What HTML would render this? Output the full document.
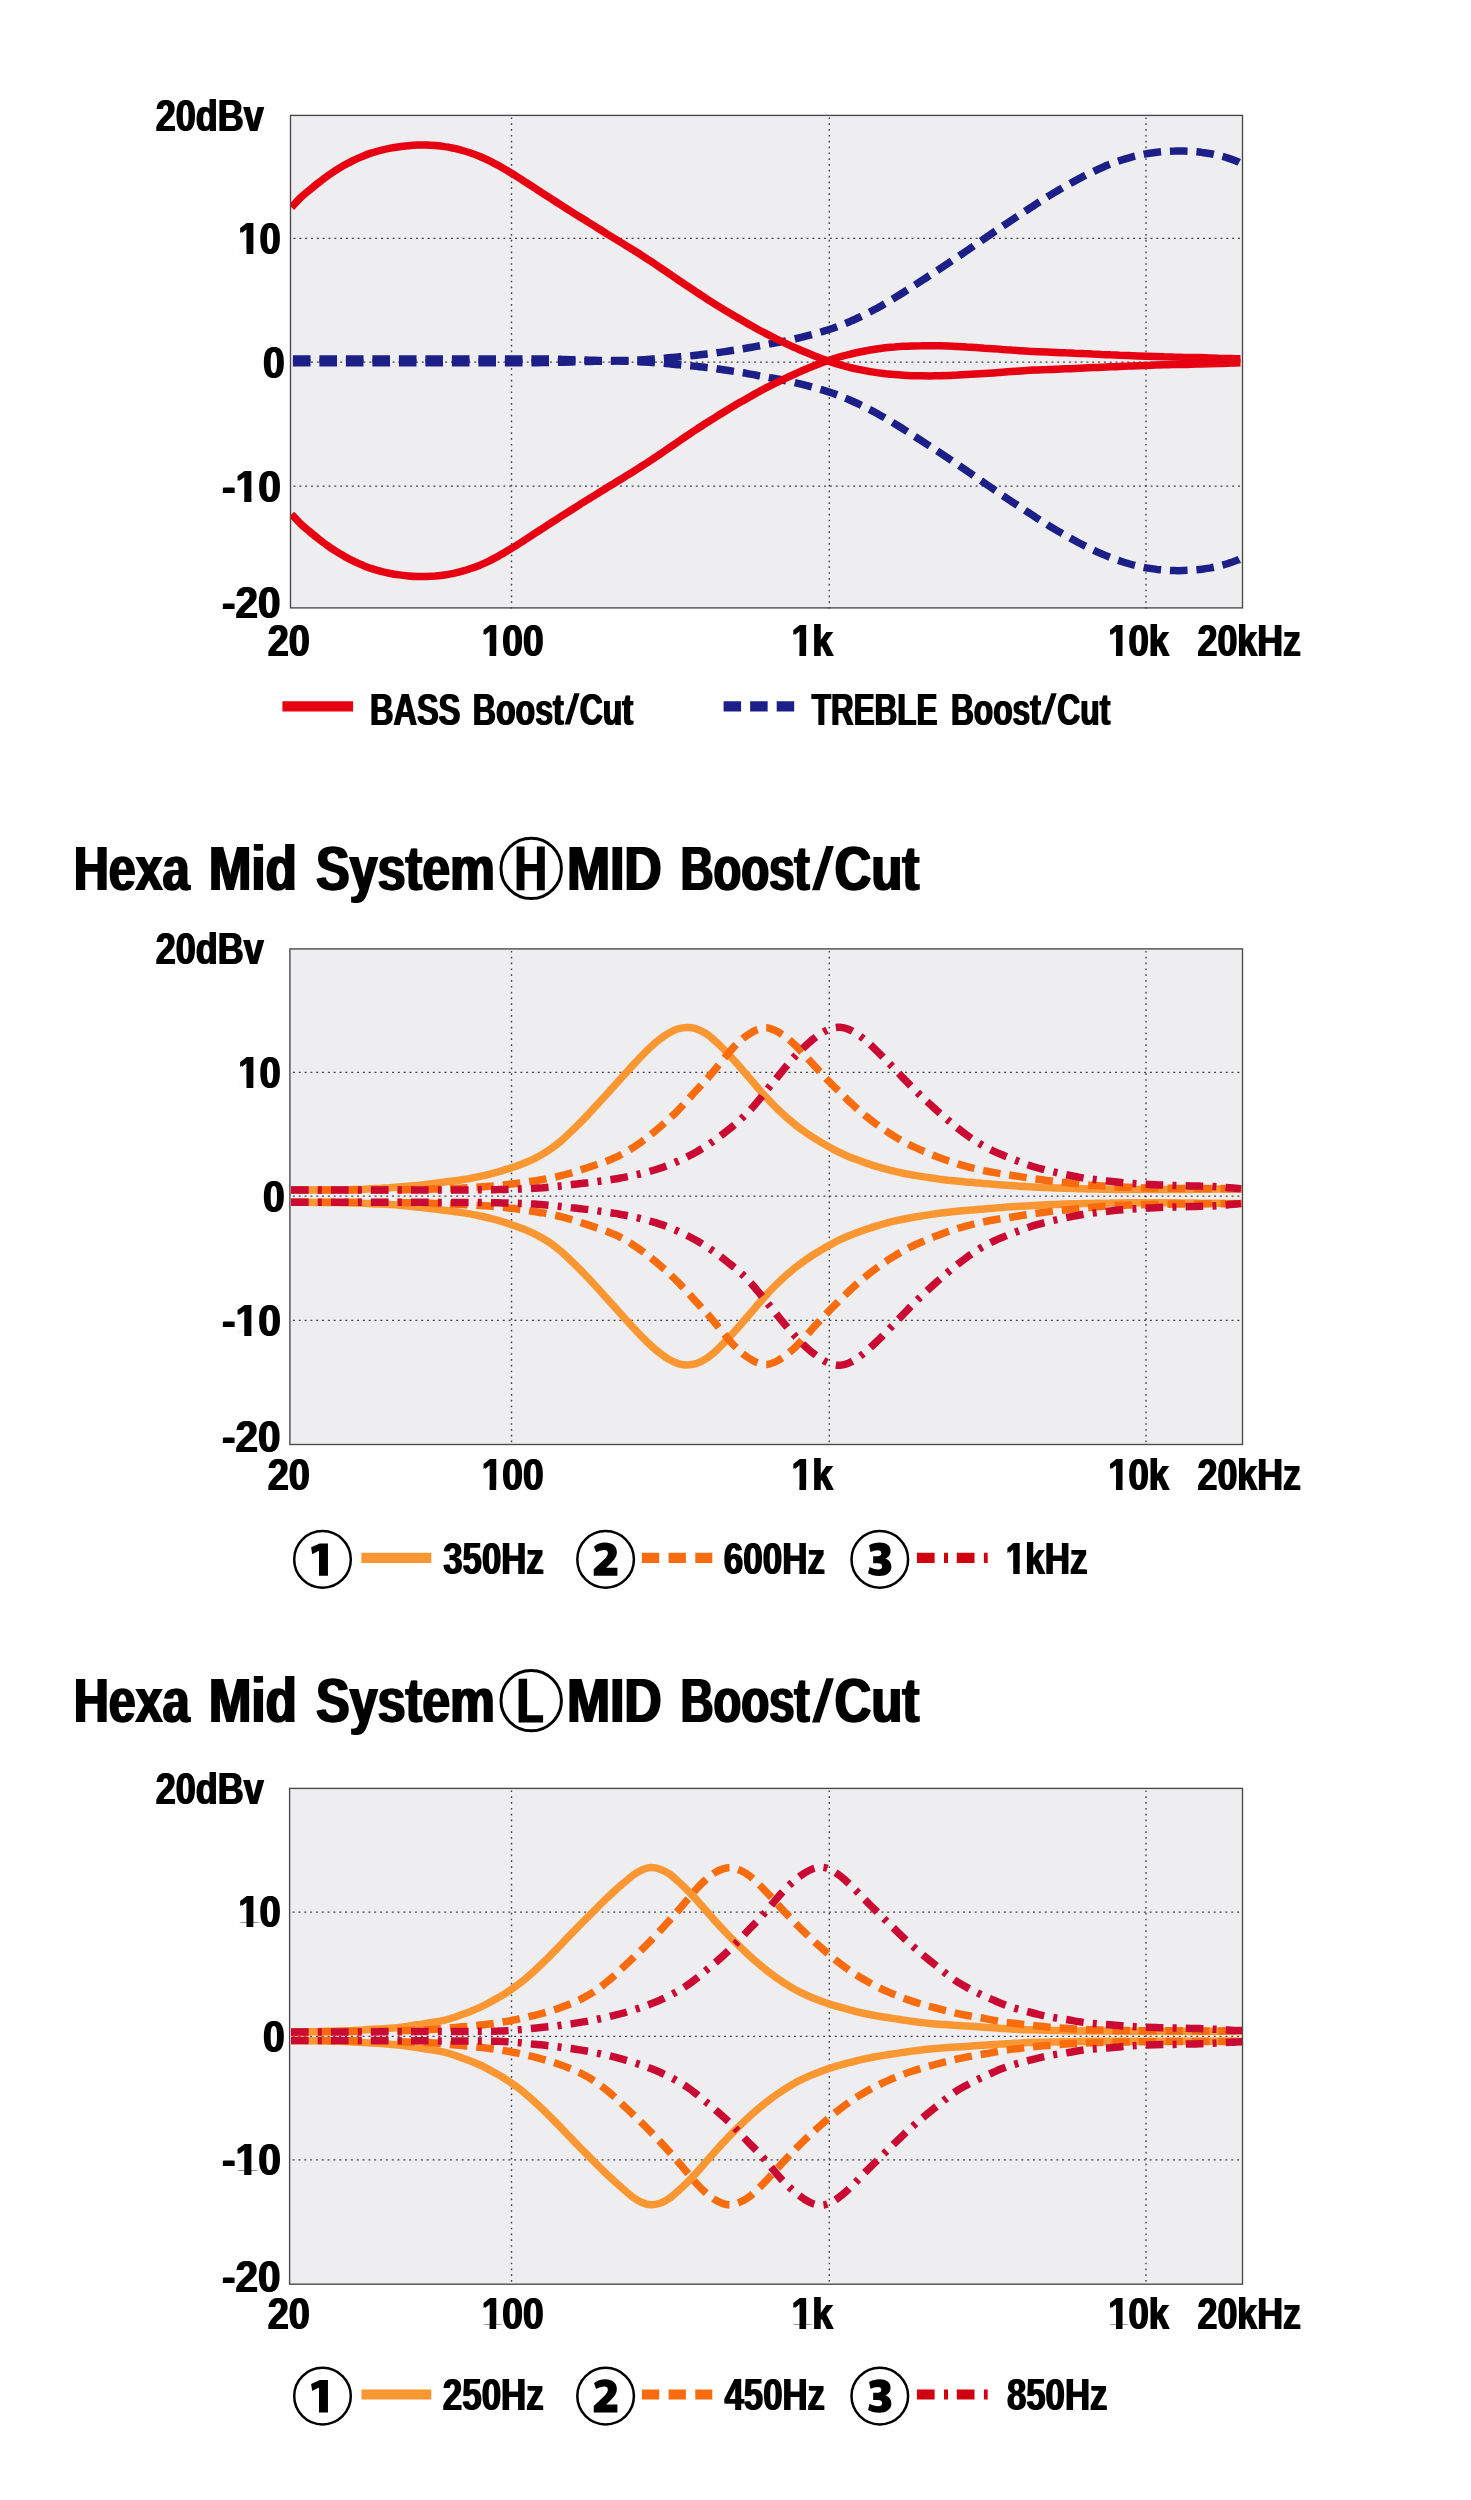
<!DOCTYPE html><html><head><meta charset="utf-8"><title>EQ curves</title><style>
html,body{margin:0;padding:0;background:#fff}svg{display:block}
text{font-family:"Liberation Sans",sans-serif;font-weight:bold}
.g{stroke:#444;stroke-width:1.25;stroke-dasharray:2 3.83;fill:none}
.gv{stroke:#444;stroke-width:1.4;stroke-dasharray:1.7 4.13;fill:none}
.c{fill:none;stroke-width:7.5;stroke-linejoin:round}
</style></head><body>
<svg width="1471" height="2500" viewBox="0 0 1471 2500">
<rect width="1471" height="2500" fill="#fff"/>
<rect x="290.5" y="115.4" width="952.0" height="492.5" fill="#eeeef0"/>
<line x1="293.5" y1="238.4" x2="1242.5" y2="238.4" class="g"/>
<line x1="293.5" y1="362.1" x2="1242.5" y2="362.1" class="g"/>
<line x1="293.5" y1="486.0" x2="1242.5" y2="486.0" class="g"/>
<line x1="511.5" y1="117.4" x2="511.5" y2="611.4" class="gv"/>
<line x1="829.3" y1="117.4" x2="829.3" y2="611.4" class="gv"/>
<line x1="1146.0" y1="117.4" x2="1146.0" y2="611.4" class="gv"/>
<clipPath id="k1"><rect x="290.7" y="115.4" width="951.8" height="492.5"/></clipPath>
<g clip-path="url(#k1)">
<path class="c" d="M292.9 358.9C294.4 358.9 298.9 358.9 301.9 358.9C304.9 358.9 307.9 358.9 310.9 358.9C313.9 358.9 316.9 358.9 319.9 358.9C322.9 358.9 325.9 358.9 328.9 358.9C331.9 358.9 334.9 358.9 337.9 358.9C340.9 358.9 343.9 358.9 346.9 358.9C349.9 358.9 352.9 358.9 355.9 358.9C358.9 358.9 361.9 358.9 364.9 358.9C367.9 358.9 370.9 358.9 373.9 358.9C376.9 358.9 379.9 358.9 382.9 358.9C385.9 358.9 388.9 358.9 391.9 358.9C394.9 358.9 397.9 358.9 400.9 358.9C403.9 358.9 406.9 358.9 409.9 358.9C412.9 358.9 415.9 358.9 418.9 358.9C421.9 358.9 424.9 358.9 427.9 358.9C430.9 358.9 433.9 358.9 436.9 358.9C439.9 358.9 442.9 358.9 445.9 358.9C448.9 358.9 451.9 358.9 454.9 358.9C457.9 358.9 460.9 358.9 463.9 358.9C466.9 358.9 469.9 358.9 472.9 358.9C475.9 358.9 478.9 358.9 481.9 358.9C484.9 358.9 487.9 358.9 490.9 358.9C493.9 358.9 496.9 358.9 499.9 358.9C502.9 358.9 505.9 358.9 508.9 358.9C511.9 358.9 514.9 358.9 517.9 358.9C520.9 358.9 523.9 358.9 526.9 358.9C529.9 358.9 532.9 358.9 535.9 358.9C538.9 358.9 541.9 358.9 544.9 359.0C547.9 359.0 550.9 359.1 553.9 359.1C556.9 359.2 559.9 359.3 562.9 359.4C565.9 359.5 568.9 359.6 571.9 359.7C574.9 359.7 577.9 359.8 580.9 359.9C583.9 360.0 586.9 360.1 589.9 360.2C592.9 360.3 595.9 360.3 598.9 360.4C601.9 360.4 604.9 360.4 607.9 360.4C610.9 360.5 613.9 360.5 616.9 360.5C619.9 360.5 622.9 360.5 625.9 360.4C628.9 360.4 631.9 360.3 634.9 360.2C637.9 360.0 640.9 359.9 643.9 359.7C646.9 359.5 649.9 359.3 652.9 359.1C655.9 358.9 658.9 358.6 661.9 358.4C664.9 358.1 667.9 357.9 670.9 357.6C673.9 357.3 676.9 357.1 679.9 356.8C682.9 356.5 685.9 356.3 688.9 356.0C691.9 355.7 694.9 355.4 697.9 355.1C700.9 354.7 703.9 354.4 706.9 354.0C709.9 353.7 712.9 353.3 715.9 352.9C718.9 352.4 721.9 352.0 724.9 351.6C727.9 351.2 730.9 350.7 733.9 350.2C736.9 349.8 739.9 349.3 742.9 348.8C745.9 348.3 748.9 347.7 751.9 347.2C754.9 346.7 757.9 346.1 760.9 345.6C763.9 345.0 766.9 344.5 769.9 343.9C772.9 343.4 775.9 342.8 778.9 342.3C781.9 341.7 784.9 341.1 787.9 340.5C790.9 339.8 793.9 339.2 796.9 338.4C799.9 337.7 802.9 337.0 805.9 336.2C808.9 335.4 811.9 334.6 814.9 333.8C817.9 333.0 820.9 332.1 823.9 331.2C826.9 330.3 829.9 329.3 832.9 328.3C835.9 327.2 838.9 326.1 841.9 324.9C844.9 323.7 847.9 322.5 850.9 321.1C853.9 319.8 856.9 318.4 859.9 317.0C862.9 315.6 865.9 314.1 868.9 312.5C871.9 311.0 874.9 309.3 877.9 307.7C880.9 306.0 883.9 304.3 886.9 302.5C889.9 300.8 892.9 299.0 895.9 297.1C898.9 295.3 901.9 293.4 904.9 291.5C907.9 289.6 910.9 287.6 913.9 285.7C916.9 283.8 919.9 281.9 922.9 279.9C925.9 278.0 928.9 276.0 931.9 274.1C934.9 272.1 937.9 270.2 940.9 268.2C943.9 266.2 946.9 264.2 949.9 262.2C952.9 260.2 955.9 258.2 958.9 256.1C961.9 254.1 964.9 252.1 967.9 250.0C970.9 248.0 973.9 245.9 976.9 243.8C979.9 241.8 982.9 239.7 985.9 237.6C988.9 235.6 991.9 233.5 994.9 231.4C997.9 229.4 1000.9 227.3 1003.9 225.3C1006.9 223.3 1009.9 221.3 1012.9 219.3C1015.9 217.3 1018.9 215.4 1021.9 213.4C1024.9 211.4 1027.9 209.4 1030.9 207.5C1033.9 205.5 1036.9 203.5 1039.9 201.6C1042.9 199.7 1045.9 197.8 1048.9 195.9C1051.9 194.1 1054.9 192.3 1057.9 190.5C1060.9 188.8 1063.9 187.0 1066.9 185.4C1069.9 183.7 1072.9 182.0 1075.9 180.4C1078.9 178.8 1081.9 177.2 1084.9 175.7C1087.9 174.2 1090.9 172.7 1093.9 171.3C1096.9 169.8 1099.9 168.5 1102.9 167.2C1105.9 165.9 1108.9 164.7 1111.9 163.5C1114.9 162.4 1117.9 161.3 1120.9 160.3C1123.9 159.3 1126.9 158.4 1129.9 157.6C1132.9 156.7 1135.9 156.0 1138.9 155.3C1141.9 154.6 1144.9 154.0 1147.9 153.5C1150.9 153.0 1153.9 152.6 1156.9 152.2C1159.9 151.9 1162.9 151.6 1165.9 151.4C1168.9 151.2 1171.9 151.0 1174.9 151.0C1177.9 150.9 1180.9 151.0 1183.9 151.1C1186.9 151.2 1189.9 151.3 1192.9 151.5C1195.9 151.8 1198.9 152.0 1201.9 152.4C1204.9 152.7 1207.9 153.2 1210.9 153.7C1213.9 154.3 1216.9 155.0 1219.9 155.8C1222.9 156.5 1225.9 157.4 1228.9 158.4C1231.9 159.3 1236.1 160.9 1237.9 161.7C1239.8 162.4 1239.7 162.6 1240.0 162.8" stroke="#1c1f87" stroke-dasharray="17.6 8.9"/>
<path class="c" d="M292.9 362.7C294.4 362.7 298.9 362.7 301.9 362.7C304.9 362.7 307.9 362.7 310.9 362.7C313.9 362.7 316.9 362.7 319.9 362.7C322.9 362.7 325.9 362.7 328.9 362.7C331.9 362.7 334.9 362.7 337.9 362.7C340.9 362.7 343.9 362.7 346.9 362.7C349.9 362.7 352.9 362.7 355.9 362.7C358.9 362.7 361.9 362.7 364.9 362.7C367.9 362.7 370.9 362.7 373.9 362.7C376.9 362.7 379.9 362.7 382.9 362.7C385.9 362.7 388.9 362.7 391.9 362.7C394.9 362.7 397.9 362.7 400.9 362.7C403.9 362.7 406.9 362.7 409.9 362.7C412.9 362.7 415.9 362.7 418.9 362.7C421.9 362.7 424.9 362.7 427.9 362.7C430.9 362.7 433.9 362.7 436.9 362.7C439.9 362.7 442.9 362.7 445.9 362.7C448.9 362.7 451.9 362.7 454.9 362.7C457.9 362.7 460.9 362.7 463.9 362.7C466.9 362.7 469.9 362.7 472.9 362.7C475.9 362.7 478.9 362.7 481.9 362.7C484.9 362.7 487.9 362.7 490.9 362.7C493.9 362.7 496.9 362.7 499.9 362.7C502.9 362.7 505.9 362.7 508.9 362.7C511.9 362.7 514.9 362.7 517.9 362.7C520.9 362.7 523.9 362.7 526.9 362.7C529.9 362.7 532.9 362.7 535.9 362.7C538.9 362.7 541.9 362.7 544.9 362.6C547.9 362.6 550.9 362.5 553.9 362.5C556.9 362.4 559.9 362.3 562.9 362.2C565.9 362.1 568.9 362.0 571.9 361.9C574.9 361.9 577.9 361.8 580.9 361.7C583.9 361.6 586.9 361.5 589.9 361.4C592.9 361.3 595.9 361.3 598.9 361.2C601.9 361.2 604.9 361.2 607.9 361.2C610.9 361.1 613.9 361.1 616.9 361.1C619.9 361.1 622.9 361.1 625.9 361.2C628.9 361.2 631.9 361.3 634.9 361.4C637.9 361.6 640.9 361.7 643.9 361.9C646.9 362.1 649.9 362.3 652.9 362.5C655.9 362.7 658.9 363.0 661.9 363.2C664.9 363.5 667.9 363.7 670.9 364.0C673.9 364.3 676.9 364.5 679.9 364.8C682.9 365.1 685.9 365.3 688.9 365.6C691.9 365.9 694.9 366.2 697.9 366.5C700.9 366.9 703.9 367.2 706.9 367.6C709.9 367.9 712.9 368.3 715.9 368.7C718.9 369.2 721.9 369.6 724.9 370.0C727.9 370.4 730.9 370.9 733.9 371.4C736.9 371.8 739.9 372.3 742.9 372.8C745.9 373.3 748.9 373.9 751.9 374.4C754.9 374.9 757.9 375.5 760.9 376.0C763.9 376.6 766.9 377.1 769.9 377.7C772.9 378.2 775.9 378.8 778.9 379.3C781.9 379.9 784.9 380.5 787.9 381.1C790.9 381.8 793.9 382.4 796.9 383.2C799.9 383.9 802.9 384.6 805.9 385.4C808.9 386.2 811.9 387.0 814.9 387.8C817.9 388.6 820.9 389.5 823.9 390.4C826.9 391.3 829.9 392.3 832.9 393.3C835.9 394.4 838.9 395.5 841.9 396.7C844.9 397.9 847.9 399.1 850.9 400.5C853.9 401.8 856.9 403.2 859.9 404.6C862.9 406.0 865.9 407.5 868.9 409.1C871.9 410.6 874.9 412.3 877.9 413.9C880.9 415.6 883.9 417.3 886.9 419.1C889.9 420.8 892.9 422.6 895.9 424.5C898.9 426.3 901.9 428.2 904.9 430.1C907.9 432.0 910.9 434.0 913.9 435.9C916.9 437.8 919.9 439.7 922.9 441.7C925.9 443.6 928.9 445.6 931.9 447.5C934.9 449.5 937.9 451.4 940.9 453.4C943.9 455.4 946.9 457.4 949.9 459.4C952.9 461.4 955.9 463.4 958.9 465.5C961.9 467.5 964.9 469.5 967.9 471.6C970.9 473.6 973.9 475.7 976.9 477.8C979.9 479.8 982.9 481.9 985.9 484.0C988.9 486.0 991.9 488.1 994.9 490.2C997.9 492.2 1000.9 494.3 1003.9 496.3C1006.9 498.3 1009.9 500.3 1012.9 502.3C1015.9 504.3 1018.9 506.2 1021.9 508.2C1024.9 510.2 1027.9 512.2 1030.9 514.1C1033.9 516.1 1036.9 518.1 1039.9 520.0C1042.9 521.9 1045.9 523.8 1048.9 525.7C1051.9 527.5 1054.9 529.3 1057.9 531.1C1060.9 532.8 1063.9 534.6 1066.9 536.2C1069.9 537.9 1072.9 539.6 1075.9 541.2C1078.9 542.8 1081.9 544.4 1084.9 545.9C1087.9 547.4 1090.9 548.9 1093.9 550.3C1096.9 551.8 1099.9 553.1 1102.9 554.4C1105.9 555.7 1108.9 556.9 1111.9 558.1C1114.9 559.2 1117.9 560.3 1120.9 561.3C1123.9 562.3 1126.9 563.2 1129.9 564.0C1132.9 564.9 1135.9 565.6 1138.9 566.3C1141.9 567.0 1144.9 567.6 1147.9 568.1C1150.9 568.6 1153.9 569.0 1156.9 569.4C1159.9 569.7 1162.9 570.0 1165.9 570.2C1168.9 570.4 1171.9 570.6 1174.9 570.6C1177.9 570.7 1180.9 570.6 1183.9 570.5C1186.9 570.4 1189.9 570.3 1192.9 570.1C1195.9 569.8 1198.9 569.6 1201.9 569.2C1204.9 568.9 1207.9 568.4 1210.9 567.9C1213.9 567.3 1216.9 566.6 1219.9 565.8C1222.9 565.1 1225.9 564.2 1228.9 563.2C1231.9 562.3 1236.1 560.7 1237.9 559.9C1239.8 559.2 1239.7 559.0 1240.0 558.8" stroke="#1c1f87" stroke-dasharray="17.6 8.9"/>
<path class="c" d="M291.5 207.4C293.0 205.8 297.5 200.7 300.5 197.8C303.5 194.9 306.5 192.6 309.5 190.1C312.5 187.6 315.5 185.1 318.5 182.7C321.5 180.4 324.5 178.1 327.5 176.0C330.5 173.8 333.5 171.8 336.5 169.9C339.5 168.0 342.5 166.3 345.5 164.6C348.5 162.9 351.5 161.4 354.5 159.9C357.5 158.5 360.5 157.2 363.5 156.0C366.5 154.7 369.5 153.6 372.5 152.7C375.5 151.7 378.5 150.8 381.5 150.1C384.5 149.3 387.5 148.7 390.5 148.1C393.5 147.5 396.5 147.1 399.5 146.7C402.5 146.3 405.5 146.0 408.5 145.7C411.5 145.4 414.5 145.2 417.5 145.1C420.5 145.0 423.5 145.0 426.5 145.0C429.5 145.1 432.5 145.3 435.5 145.5C438.5 145.8 441.5 146.1 444.5 146.6C447.5 147.0 450.5 147.6 453.5 148.2C456.5 148.9 459.5 149.6 462.5 150.5C465.5 151.3 468.5 152.2 471.5 153.3C474.5 154.3 477.5 155.5 480.5 156.7C483.5 158.0 486.5 159.3 489.5 160.8C492.5 162.3 495.5 163.9 498.5 165.5C501.5 167.2 504.5 169.0 507.5 170.8C510.5 172.6 513.5 174.4 516.5 176.3C519.5 178.2 522.5 180.1 525.5 182.1C528.5 184.0 531.5 186.0 534.5 187.9C537.5 189.9 540.5 191.8 543.5 193.8C546.5 195.7 549.5 197.7 552.5 199.6C555.5 201.5 558.5 203.5 561.5 205.4C564.5 207.3 567.5 209.2 570.5 211.1C573.5 213.0 576.5 214.9 579.5 216.8C582.5 218.6 585.5 220.5 588.5 222.4C591.5 224.2 594.5 226.1 597.5 228.0C600.5 229.8 603.5 231.7 606.5 233.6C609.5 235.4 612.5 237.3 615.5 239.1C618.5 240.9 621.5 242.8 624.5 244.6C627.5 246.4 630.5 248.3 633.5 250.1C636.5 252.0 639.5 253.9 642.5 255.9C645.5 257.8 648.5 259.8 651.5 261.7C654.5 263.7 657.5 265.8 660.5 267.8C663.5 269.8 666.5 271.9 669.5 273.9C672.5 276.0 675.5 278.0 678.5 280.1C681.5 282.1 684.5 284.2 687.5 286.2C690.5 288.2 693.5 290.3 696.5 292.2C699.5 294.2 702.5 296.2 705.5 298.1C708.5 300.0 711.5 301.9 714.5 303.8C717.5 305.7 720.5 307.5 723.5 309.4C726.5 311.2 729.5 313.0 732.5 314.8C735.5 316.6 738.5 318.3 741.5 320.0C744.5 321.8 747.5 323.5 750.5 325.2C753.5 326.9 756.5 328.5 759.5 330.2C762.5 331.8 765.5 333.4 768.5 334.9C771.5 336.5 774.5 338.0 777.5 339.5C780.5 341.0 783.5 342.4 786.5 343.8C789.5 345.2 792.5 346.6 795.5 347.9C798.5 349.2 801.5 350.6 804.5 351.8C807.5 353.1 810.5 354.3 813.5 355.5C816.5 356.7 819.5 357.9 822.5 359.0C825.5 360.1 828.5 361.1 831.5 362.1C834.5 363.1 837.5 364.1 840.5 364.9C843.5 365.8 846.5 366.6 849.5 367.3C852.5 368.1 855.5 368.8 858.5 369.4C861.5 370.0 864.5 370.6 867.5 371.1C870.5 371.7 873.5 372.1 876.5 372.6C879.5 373.0 882.5 373.4 885.5 373.8C888.5 374.1 891.5 374.4 894.5 374.6C897.5 374.9 900.5 375.1 903.5 375.3C906.5 375.5 909.5 375.6 912.5 375.7C915.5 375.8 918.5 375.8 921.5 375.8C924.5 375.9 927.5 375.9 930.5 375.9C933.5 375.9 936.5 375.8 939.5 375.8C942.5 375.7 945.5 375.6 948.5 375.5C951.5 375.4 954.5 375.2 957.5 375.1C960.5 374.9 963.5 374.7 966.5 374.5C969.5 374.4 972.5 374.2 975.5 374.0C978.5 373.8 981.5 373.6 984.5 373.4C987.5 373.3 990.5 373.1 993.5 372.9C996.5 372.7 999.5 372.5 1002.5 372.2C1005.5 372.0 1008.5 371.8 1011.5 371.5C1014.5 371.3 1017.5 371.1 1020.5 370.9C1023.5 370.7 1026.5 370.5 1029.5 370.3C1032.5 370.2 1035.5 370.0 1038.5 369.9C1041.5 369.8 1044.5 369.7 1047.5 369.6C1050.5 369.4 1053.5 369.3 1056.5 369.2C1059.5 369.1 1062.5 369.0 1065.5 368.8C1068.5 368.7 1071.5 368.6 1074.5 368.4C1077.5 368.3 1080.5 368.2 1083.5 368.0C1086.5 367.9 1089.5 367.8 1092.5 367.6C1095.5 367.5 1098.5 367.4 1101.5 367.2C1104.5 367.1 1107.5 367.0 1110.5 366.8C1113.5 366.7 1116.5 366.6 1119.5 366.4C1122.5 366.3 1125.5 366.2 1128.5 366.1C1131.5 365.9 1134.5 365.8 1137.5 365.7C1140.5 365.6 1143.5 365.5 1146.5 365.4C1149.5 365.3 1152.5 365.2 1155.5 365.1C1158.5 365.0 1161.5 364.9 1164.5 364.8C1167.5 364.8 1170.5 364.7 1173.5 364.6C1176.5 364.6 1179.5 364.5 1182.5 364.4C1185.5 364.4 1188.5 364.3 1191.5 364.2C1194.5 364.1 1197.5 364.1 1200.5 364.0C1203.5 363.9 1206.5 363.8 1209.5 363.7C1212.5 363.6 1215.5 363.5 1218.5 363.4C1221.5 363.4 1224.5 363.3 1227.5 363.2C1230.5 363.1 1234.3 363.0 1236.5 362.9C1238.7 362.9 1239.8 362.8 1240.5 362.8" stroke="#e60012"/>
<path class="c" d="M291.5 514.2C293.0 515.8 297.5 520.9 300.5 523.8C303.5 526.7 306.5 529.0 309.5 531.5C312.5 534.0 315.5 536.5 318.5 538.9C321.5 541.2 324.5 543.5 327.5 545.6C330.5 547.8 333.5 549.8 336.5 551.7C339.5 553.6 342.5 555.3 345.5 557.0C348.5 558.7 351.5 560.2 354.5 561.7C357.5 563.1 360.5 564.4 363.5 565.6C366.5 566.9 369.5 568.0 372.5 568.9C375.5 569.9 378.5 570.8 381.5 571.5C384.5 572.3 387.5 572.9 390.5 573.5C393.5 574.1 396.5 574.5 399.5 574.9C402.5 575.3 405.5 575.6 408.5 575.9C411.5 576.2 414.5 576.4 417.5 576.5C420.5 576.6 423.5 576.6 426.5 576.6C429.5 576.5 432.5 576.3 435.5 576.1C438.5 575.8 441.5 575.5 444.5 575.0C447.5 574.6 450.5 574.0 453.5 573.4C456.5 572.7 459.5 572.0 462.5 571.1C465.5 570.3 468.5 569.4 471.5 568.3C474.5 567.3 477.5 566.1 480.5 564.9C483.5 563.6 486.5 562.3 489.5 560.8C492.5 559.3 495.5 557.7 498.5 556.1C501.5 554.4 504.5 552.6 507.5 550.8C510.5 549.0 513.5 547.2 516.5 545.3C519.5 543.4 522.5 541.5 525.5 539.5C528.5 537.6 531.5 535.6 534.5 533.7C537.5 531.7 540.5 529.8 543.5 527.8C546.5 525.9 549.5 523.9 552.5 522.0C555.5 520.1 558.5 518.1 561.5 516.2C564.5 514.3 567.5 512.4 570.5 510.5C573.5 508.6 576.5 506.7 579.5 504.8C582.5 503.0 585.5 501.1 588.5 499.2C591.5 497.4 594.5 495.5 597.5 493.6C600.5 491.8 603.5 489.9 606.5 488.0C609.5 486.2 612.5 484.3 615.5 482.5C618.5 480.7 621.5 478.8 624.5 477.0C627.5 475.2 630.5 473.3 633.5 471.5C636.5 469.6 639.5 467.7 642.5 465.7C645.5 463.8 648.5 461.8 651.5 459.9C654.5 457.9 657.5 455.8 660.5 453.8C663.5 451.8 666.5 449.7 669.5 447.7C672.5 445.6 675.5 443.6 678.5 441.5C681.5 439.5 684.5 437.4 687.5 435.4C690.5 433.4 693.5 431.3 696.5 429.4C699.5 427.4 702.5 425.4 705.5 423.5C708.5 421.6 711.5 419.7 714.5 417.8C717.5 415.9 720.5 414.1 723.5 412.2C726.5 410.4 729.5 408.6 732.5 406.8C735.5 405.0 738.5 403.3 741.5 401.6C744.5 399.8 747.5 398.1 750.5 396.4C753.5 394.7 756.5 393.1 759.5 391.4C762.5 389.8 765.5 388.2 768.5 386.7C771.5 385.1 774.5 383.6 777.5 382.1C780.5 380.6 783.5 379.2 786.5 377.8C789.5 376.4 792.5 375.0 795.5 373.7C798.5 372.4 801.5 371.0 804.5 369.8C807.5 368.5 810.5 367.3 813.5 366.1C816.5 364.9 819.5 363.7 822.5 362.6C825.5 361.5 828.5 360.5 831.5 359.5C834.5 358.5 837.5 357.5 840.5 356.7C843.5 355.8 846.5 355.0 849.5 354.3C852.5 353.5 855.5 352.8 858.5 352.2C861.5 351.6 864.5 351.0 867.5 350.5C870.5 349.9 873.5 349.5 876.5 349.0C879.5 348.6 882.5 348.2 885.5 347.8C888.5 347.5 891.5 347.2 894.5 347.0C897.5 346.7 900.5 346.5 903.5 346.3C906.5 346.1 909.5 346.0 912.5 345.9C915.5 345.8 918.5 345.8 921.5 345.8C924.5 345.7 927.5 345.7 930.5 345.7C933.5 345.7 936.5 345.8 939.5 345.8C942.5 345.9 945.5 346.0 948.5 346.1C951.5 346.2 954.5 346.4 957.5 346.5C960.5 346.7 963.5 346.9 966.5 347.1C969.5 347.2 972.5 347.4 975.5 347.6C978.5 347.8 981.5 348.0 984.5 348.2C987.5 348.3 990.5 348.5 993.5 348.7C996.5 348.9 999.5 349.1 1002.5 349.4C1005.5 349.6 1008.5 349.8 1011.5 350.1C1014.5 350.3 1017.5 350.5 1020.5 350.7C1023.5 350.9 1026.5 351.1 1029.5 351.3C1032.5 351.4 1035.5 351.6 1038.5 351.7C1041.5 351.8 1044.5 351.9 1047.5 352.0C1050.5 352.2 1053.5 352.3 1056.5 352.4C1059.5 352.5 1062.5 352.6 1065.5 352.8C1068.5 352.9 1071.5 353.0 1074.5 353.2C1077.5 353.3 1080.5 353.4 1083.5 353.6C1086.5 353.7 1089.5 353.8 1092.5 354.0C1095.5 354.1 1098.5 354.2 1101.5 354.4C1104.5 354.5 1107.5 354.6 1110.5 354.8C1113.5 354.9 1116.5 355.0 1119.5 355.2C1122.5 355.3 1125.5 355.4 1128.5 355.5C1131.5 355.7 1134.5 355.8 1137.5 355.9C1140.5 356.0 1143.5 356.1 1146.5 356.2C1149.5 356.3 1152.5 356.4 1155.5 356.5C1158.5 356.6 1161.5 356.7 1164.5 356.8C1167.5 356.8 1170.5 356.9 1173.5 357.0C1176.5 357.0 1179.5 357.1 1182.5 357.2C1185.5 357.2 1188.5 357.3 1191.5 357.4C1194.5 357.5 1197.5 357.5 1200.5 357.6C1203.5 357.7 1206.5 357.8 1209.5 357.9C1212.5 358.0 1215.5 358.1 1218.5 358.2C1221.5 358.2 1224.5 358.3 1227.5 358.4C1230.5 358.5 1234.3 358.6 1236.5 358.7C1238.7 358.7 1239.8 358.8 1240.5 358.8" stroke="#e60012"/>
</g>
<rect x="290.5" y="115.4" width="952.0" height="492.5" fill="none" stroke="#4a4546" stroke-width="1.35"/>
<rect x="289.9" y="948.9" width="952.6" height="495.6" fill="#eeeef0"/>
<line x1="292.9" y1="1072.4" x2="1242.5" y2="1072.4" class="g"/>
<line x1="292.9" y1="1196.2" x2="1242.5" y2="1196.2" class="g"/>
<line x1="292.9" y1="1320.4" x2="1242.5" y2="1320.4" class="g"/>
<line x1="511.5" y1="950.9" x2="511.5" y2="1445.3" class="gv"/>
<line x1="829.3" y1="950.9" x2="829.3" y2="1445.3" class="gv"/>
<line x1="1146.0" y1="950.9" x2="1146.0" y2="1445.3" class="gv"/>
<clipPath id="kc2"><rect x="290.7" y="948.9" width="952.8" height="495.6"/></clipPath>
<g clip-path="url(#kc2)">
<path class="c" d="M291.0 1190.1C292.5 1190.1 297.0 1190.1 300.0 1190.1C303.0 1190.1 306.0 1190.1 309.0 1190.1C312.0 1190.0 315.0 1190.0 318.0 1190.0C321.0 1190.0 324.0 1190.0 327.0 1189.9C330.0 1189.9 333.0 1189.9 336.0 1189.8C339.0 1189.8 342.0 1189.8 345.0 1189.7C348.0 1189.7 351.0 1189.6 354.0 1189.5C357.0 1189.4 360.0 1189.3 363.0 1189.2C366.0 1189.0 369.0 1188.9 372.0 1188.7C375.0 1188.6 378.0 1188.4 381.0 1188.3C384.0 1188.1 387.0 1187.9 390.0 1187.8C393.0 1187.6 396.0 1187.4 399.0 1187.1C402.0 1186.9 405.0 1186.6 408.0 1186.3C411.0 1186.1 414.0 1185.7 417.0 1185.4C420.0 1185.1 423.0 1184.8 426.0 1184.4C429.0 1184.1 432.0 1183.7 435.0 1183.3C438.0 1182.9 441.0 1182.5 444.0 1182.1C447.0 1181.7 450.0 1181.4 453.0 1181.0C456.0 1180.7 459.0 1180.3 462.0 1179.8C465.0 1179.4 468.0 1178.8 471.0 1178.3C474.0 1177.7 477.0 1177.1 480.0 1176.4C483.0 1175.8 486.0 1175.1 489.0 1174.4C492.0 1173.6 495.0 1172.8 498.0 1172.0C501.0 1171.1 504.0 1170.1 507.0 1169.2C510.0 1168.2 513.0 1167.2 516.0 1166.2C519.0 1165.1 522.0 1164.0 525.0 1162.8C528.0 1161.5 531.0 1160.2 534.0 1158.8C537.0 1157.3 540.0 1155.7 543.0 1153.9C546.0 1152.1 549.0 1150.3 552.0 1148.1C555.0 1145.9 558.0 1143.5 561.0 1141.0C564.0 1138.4 567.0 1135.5 570.0 1132.6C573.0 1129.8 576.0 1126.9 579.0 1123.9C582.0 1120.9 585.0 1117.8 588.0 1114.6C591.0 1111.4 594.0 1108.1 597.0 1104.8C600.0 1101.6 603.0 1098.2 606.0 1094.9C609.0 1091.6 612.0 1088.2 615.0 1084.9C618.0 1081.6 621.0 1078.3 624.0 1075.0C627.0 1071.7 630.0 1068.3 633.0 1065.1C636.0 1061.8 639.0 1058.6 642.0 1055.6C645.0 1052.5 648.0 1049.5 651.0 1046.8C654.0 1044.0 657.0 1041.4 660.0 1039.1C663.0 1036.8 666.0 1034.7 669.0 1033.0C672.0 1031.2 675.0 1029.8 678.0 1028.8C681.0 1027.9 684.0 1027.4 687.0 1027.4C690.0 1027.4 693.0 1027.8 696.0 1028.7C699.0 1029.7 702.0 1031.1 705.0 1033.0C708.0 1034.8 711.0 1037.2 714.0 1039.8C717.0 1042.4 720.0 1045.4 723.0 1048.5C726.0 1051.5 729.0 1054.8 732.0 1058.1C735.0 1061.4 738.0 1064.8 741.0 1068.2C744.0 1071.6 747.0 1075.1 750.0 1078.6C753.0 1082.1 756.0 1085.8 759.0 1089.2C762.0 1092.7 765.0 1096.0 768.0 1099.3C771.0 1102.5 774.0 1105.6 777.0 1108.5C780.0 1111.4 783.0 1114.2 786.0 1116.9C789.0 1119.5 792.0 1122.1 795.0 1124.5C798.0 1126.9 801.0 1129.2 804.0 1131.3C807.0 1133.5 810.0 1135.5 813.0 1137.4C816.0 1139.3 819.0 1141.1 822.0 1142.9C825.0 1144.7 828.0 1146.4 831.0 1148.0C834.0 1149.7 837.0 1151.3 840.0 1152.7C843.0 1154.2 846.0 1155.5 849.0 1156.7C852.0 1157.9 855.0 1159.0 858.0 1160.1C861.0 1161.2 864.0 1162.3 867.0 1163.4C870.0 1164.4 873.0 1165.4 876.0 1166.3C879.0 1167.3 882.0 1168.1 885.0 1168.9C888.0 1169.8 891.0 1170.5 894.0 1171.2C897.0 1171.9 900.0 1172.6 903.0 1173.2C906.0 1173.8 909.0 1174.4 912.0 1174.9C915.0 1175.5 918.0 1176.0 921.0 1176.4C924.0 1176.9 927.0 1177.4 930.0 1177.8C933.0 1178.3 936.0 1178.7 939.0 1179.1C942.0 1179.5 945.0 1179.8 948.0 1180.2C951.0 1180.5 954.0 1180.8 957.0 1181.1C960.0 1181.4 963.0 1181.7 966.0 1182.0C969.0 1182.2 972.0 1182.5 975.0 1182.7C978.0 1183.0 981.0 1183.2 984.0 1183.5C987.0 1183.7 990.0 1184.0 993.0 1184.2C996.0 1184.5 999.0 1184.7 1002.0 1184.9C1005.0 1185.2 1008.0 1185.4 1011.0 1185.6C1014.0 1185.8 1017.0 1186.0 1020.0 1186.2C1023.0 1186.4 1026.0 1186.6 1029.0 1186.7C1032.0 1186.9 1035.0 1187.0 1038.0 1187.2C1041.0 1187.3 1044.0 1187.5 1047.0 1187.6C1050.0 1187.7 1053.0 1187.9 1056.0 1188.0C1059.0 1188.1 1062.0 1188.2 1065.0 1188.3C1068.0 1188.4 1071.0 1188.5 1074.0 1188.6C1077.0 1188.7 1080.0 1188.7 1083.0 1188.8C1086.0 1188.9 1089.0 1189.0 1092.0 1189.0C1095.0 1189.1 1098.0 1189.1 1101.0 1189.2C1104.0 1189.2 1107.0 1189.3 1110.0 1189.3C1113.0 1189.4 1116.0 1189.4 1119.0 1189.5C1122.0 1189.5 1125.0 1189.5 1128.0 1189.6C1131.0 1189.6 1134.0 1189.6 1137.0 1189.6C1140.0 1189.6 1143.0 1189.6 1146.0 1189.6C1149.0 1189.6 1152.0 1189.6 1155.0 1189.6C1158.0 1189.6 1161.0 1189.6 1164.0 1189.6C1167.0 1189.6 1170.0 1189.6 1173.0 1189.6C1176.0 1189.6 1179.0 1189.5 1182.0 1189.5C1185.0 1189.5 1188.0 1189.4 1191.0 1189.4C1194.0 1189.3 1197.0 1189.3 1200.0 1189.2C1203.0 1189.2 1206.0 1189.2 1209.0 1189.2C1212.0 1189.1 1215.0 1189.1 1218.0 1189.1C1221.0 1189.1 1224.0 1189.0 1227.0 1189.0C1230.0 1189.0 1233.3 1189.0 1236.0 1188.9C1238.7 1188.9 1241.8 1188.9 1243.0 1188.9" stroke="#fb9732"/>
<path class="c" d="M291.0 1202.3C292.5 1202.3 297.0 1202.3 300.0 1202.3C303.0 1202.3 306.0 1202.3 309.0 1202.3C312.0 1202.4 315.0 1202.4 318.0 1202.4C321.0 1202.4 324.0 1202.4 327.0 1202.5C330.0 1202.5 333.0 1202.5 336.0 1202.6C339.0 1202.6 342.0 1202.6 345.0 1202.7C348.0 1202.7 351.0 1202.8 354.0 1202.9C357.0 1203.0 360.0 1203.1 363.0 1203.2C366.0 1203.4 369.0 1203.5 372.0 1203.7C375.0 1203.8 378.0 1204.0 381.0 1204.1C384.0 1204.3 387.0 1204.5 390.0 1204.6C393.0 1204.8 396.0 1205.0 399.0 1205.3C402.0 1205.5 405.0 1205.8 408.0 1206.1C411.0 1206.3 414.0 1206.7 417.0 1207.0C420.0 1207.3 423.0 1207.6 426.0 1208.0C429.0 1208.3 432.0 1208.7 435.0 1209.1C438.0 1209.5 441.0 1209.9 444.0 1210.3C447.0 1210.7 450.0 1211.0 453.0 1211.4C456.0 1211.7 459.0 1212.1 462.0 1212.6C465.0 1213.0 468.0 1213.6 471.0 1214.1C474.0 1214.7 477.0 1215.3 480.0 1216.0C483.0 1216.6 486.0 1217.3 489.0 1218.0C492.0 1218.8 495.0 1219.6 498.0 1220.4C501.0 1221.3 504.0 1222.3 507.0 1223.2C510.0 1224.2 513.0 1225.2 516.0 1226.2C519.0 1227.3 522.0 1228.4 525.0 1229.6C528.0 1230.9 531.0 1232.2 534.0 1233.6C537.0 1235.1 540.0 1236.7 543.0 1238.5C546.0 1240.3 549.0 1242.1 552.0 1244.3C555.0 1246.5 558.0 1248.9 561.0 1251.4C564.0 1254.0 567.0 1256.9 570.0 1259.8C573.0 1262.6 576.0 1265.5 579.0 1268.5C582.0 1271.5 585.0 1274.6 588.0 1277.8C591.0 1281.0 594.0 1284.3 597.0 1287.6C600.0 1290.8 603.0 1294.2 606.0 1297.5C609.0 1300.8 612.0 1304.2 615.0 1307.5C618.0 1310.8 621.0 1314.1 624.0 1317.4C627.0 1320.7 630.0 1324.1 633.0 1327.3C636.0 1330.6 639.0 1333.8 642.0 1336.8C645.0 1339.9 648.0 1342.9 651.0 1345.6C654.0 1348.4 657.0 1351.0 660.0 1353.3C663.0 1355.6 666.0 1357.7 669.0 1359.4C672.0 1361.2 675.0 1362.6 678.0 1363.6C681.0 1364.5 684.0 1365.0 687.0 1365.0C690.0 1365.0 693.0 1364.6 696.0 1363.7C699.0 1362.7 702.0 1361.3 705.0 1359.4C708.0 1357.6 711.0 1355.2 714.0 1352.6C717.0 1350.0 720.0 1347.0 723.0 1343.9C726.0 1340.9 729.0 1337.6 732.0 1334.3C735.0 1331.0 738.0 1327.6 741.0 1324.2C744.0 1320.8 747.0 1317.3 750.0 1313.8C753.0 1310.3 756.0 1306.6 759.0 1303.2C762.0 1299.7 765.0 1296.4 768.0 1293.1C771.0 1289.9 774.0 1286.8 777.0 1283.9C780.0 1281.0 783.0 1278.2 786.0 1275.5C789.0 1272.9 792.0 1270.3 795.0 1267.9C798.0 1265.5 801.0 1263.2 804.0 1261.1C807.0 1258.9 810.0 1256.9 813.0 1255.0C816.0 1253.1 819.0 1251.3 822.0 1249.5C825.0 1247.7 828.0 1246.0 831.0 1244.4C834.0 1242.7 837.0 1241.1 840.0 1239.7C843.0 1238.2 846.0 1236.9 849.0 1235.7C852.0 1234.5 855.0 1233.4 858.0 1232.3C861.0 1231.2 864.0 1230.1 867.0 1229.0C870.0 1228.0 873.0 1227.0 876.0 1226.1C879.0 1225.1 882.0 1224.3 885.0 1223.5C888.0 1222.6 891.0 1221.9 894.0 1221.2C897.0 1220.5 900.0 1219.8 903.0 1219.2C906.0 1218.6 909.0 1218.0 912.0 1217.5C915.0 1216.9 918.0 1216.4 921.0 1216.0C924.0 1215.5 927.0 1215.0 930.0 1214.6C933.0 1214.1 936.0 1213.7 939.0 1213.3C942.0 1212.9 945.0 1212.6 948.0 1212.2C951.0 1211.9 954.0 1211.6 957.0 1211.3C960.0 1211.0 963.0 1210.7 966.0 1210.4C969.0 1210.2 972.0 1209.9 975.0 1209.7C978.0 1209.4 981.0 1209.2 984.0 1208.9C987.0 1208.7 990.0 1208.4 993.0 1208.2C996.0 1207.9 999.0 1207.7 1002.0 1207.5C1005.0 1207.2 1008.0 1207.0 1011.0 1206.8C1014.0 1206.6 1017.0 1206.4 1020.0 1206.2C1023.0 1206.0 1026.0 1205.8 1029.0 1205.7C1032.0 1205.5 1035.0 1205.4 1038.0 1205.2C1041.0 1205.1 1044.0 1204.9 1047.0 1204.8C1050.0 1204.7 1053.0 1204.5 1056.0 1204.4C1059.0 1204.3 1062.0 1204.2 1065.0 1204.1C1068.0 1204.0 1071.0 1203.9 1074.0 1203.8C1077.0 1203.7 1080.0 1203.7 1083.0 1203.6C1086.0 1203.5 1089.0 1203.4 1092.0 1203.4C1095.0 1203.3 1098.0 1203.3 1101.0 1203.2C1104.0 1203.2 1107.0 1203.1 1110.0 1203.1C1113.0 1203.0 1116.0 1203.0 1119.0 1202.9C1122.0 1202.9 1125.0 1202.9 1128.0 1202.8C1131.0 1202.8 1134.0 1202.8 1137.0 1202.8C1140.0 1202.8 1143.0 1202.8 1146.0 1202.8C1149.0 1202.8 1152.0 1202.8 1155.0 1202.8C1158.0 1202.8 1161.0 1202.8 1164.0 1202.8C1167.0 1202.8 1170.0 1202.8 1173.0 1202.8C1176.0 1202.8 1179.0 1202.9 1182.0 1202.9C1185.0 1202.9 1188.0 1203.0 1191.0 1203.0C1194.0 1203.1 1197.0 1203.1 1200.0 1203.2C1203.0 1203.2 1206.0 1203.2 1209.0 1203.2C1212.0 1203.3 1215.0 1203.3 1218.0 1203.3C1221.0 1203.3 1224.0 1203.4 1227.0 1203.4C1230.0 1203.4 1233.3 1203.4 1236.0 1203.5C1238.7 1203.5 1241.8 1203.5 1243.0 1203.5" stroke="#fb9732"/>
<path class="c" d="M291.0 1190.1C292.5 1190.1 297.0 1190.1 300.0 1190.1C303.0 1190.1 306.0 1190.1 309.0 1190.1C312.0 1190.1 315.0 1190.1 318.0 1190.1C321.0 1190.1 324.0 1190.1 327.0 1190.1C330.0 1190.1 333.0 1190.1 336.0 1190.1C339.0 1190.1 342.0 1190.1 345.0 1190.1C348.0 1190.1 351.0 1190.1 354.0 1190.1C357.0 1190.1 360.0 1190.1 363.0 1190.1C366.0 1190.1 369.0 1190.0 372.0 1190.0C375.0 1190.0 378.0 1190.0 381.0 1190.0C384.0 1189.9 387.0 1189.9 390.0 1189.9C393.0 1189.9 396.0 1189.8 399.0 1189.8C402.0 1189.8 405.0 1189.7 408.0 1189.7C411.0 1189.6 414.0 1189.6 417.0 1189.5C420.0 1189.5 423.0 1189.4 426.0 1189.3C429.0 1189.2 432.0 1189.1 435.0 1189.0C438.0 1189.0 441.0 1188.9 444.0 1188.8C447.0 1188.7 450.0 1188.5 453.0 1188.4C456.0 1188.3 459.0 1188.1 462.0 1188.0C465.0 1187.8 468.0 1187.7 471.0 1187.5C474.0 1187.3 477.0 1187.1 480.0 1186.9C483.0 1186.7 486.0 1186.5 489.0 1186.3C492.0 1186.1 495.0 1185.8 498.0 1185.5C501.0 1185.2 504.0 1184.9 507.0 1184.6C510.0 1184.2 513.0 1183.9 516.0 1183.5C519.0 1183.1 522.0 1182.7 525.0 1182.2C528.0 1181.8 531.0 1181.3 534.0 1180.9C537.0 1180.4 540.0 1180.0 543.0 1179.5C546.0 1179.0 549.0 1178.4 552.0 1177.8C555.0 1177.2 558.0 1176.5 561.0 1175.7C564.0 1174.9 567.0 1174.1 570.0 1173.3C573.0 1172.4 576.0 1171.4 579.0 1170.5C582.0 1169.5 585.0 1168.5 588.0 1167.5C591.0 1166.5 594.0 1165.5 597.0 1164.5C600.0 1163.5 603.0 1162.5 606.0 1161.4C609.0 1160.2 612.0 1159.1 615.0 1157.7C618.0 1156.3 621.0 1154.8 624.0 1153.1C627.0 1151.4 630.0 1149.5 633.0 1147.6C636.0 1145.6 639.0 1143.6 642.0 1141.4C645.0 1139.2 648.0 1136.9 651.0 1134.5C654.0 1132.1 657.0 1129.6 660.0 1127.0C663.0 1124.4 666.0 1121.8 669.0 1119.0C672.0 1116.2 675.0 1113.3 678.0 1110.3C681.0 1107.2 684.0 1103.9 687.0 1100.7C690.0 1097.4 693.0 1094.0 696.0 1090.8C699.0 1087.5 702.0 1084.3 705.0 1081.0C708.0 1077.7 711.0 1074.3 714.0 1070.8C717.0 1067.2 720.0 1063.3 723.0 1059.6C726.0 1056.0 729.0 1052.3 732.0 1049.1C735.0 1045.8 738.0 1042.7 741.0 1040.1C744.0 1037.5 747.0 1035.3 750.0 1033.5C753.0 1031.6 756.0 1030.0 759.0 1029.1C762.0 1028.2 765.0 1027.6 768.0 1028.0C771.0 1028.4 774.0 1029.9 777.0 1031.4C780.0 1033.0 783.0 1035.0 786.0 1037.3C789.0 1039.6 792.0 1042.2 795.0 1045.0C798.0 1047.9 801.0 1051.2 804.0 1054.4C807.0 1057.6 810.0 1061.0 813.0 1064.3C816.0 1067.6 819.0 1070.9 822.0 1074.1C825.0 1077.3 828.0 1080.4 831.0 1083.5C834.0 1086.5 837.0 1089.5 840.0 1092.4C843.0 1095.4 846.0 1098.3 849.0 1101.2C852.0 1104.0 855.0 1106.9 858.0 1109.5C861.0 1112.1 864.0 1114.6 867.0 1117.0C870.0 1119.4 873.0 1121.7 876.0 1123.9C879.0 1126.1 882.0 1128.3 885.0 1130.3C888.0 1132.3 891.0 1134.3 894.0 1136.1C897.0 1138.0 900.0 1139.8 903.0 1141.4C906.0 1143.0 909.0 1144.6 912.0 1146.0C915.0 1147.5 918.0 1148.8 921.0 1150.1C924.0 1151.4 927.0 1152.7 930.0 1153.9C933.0 1155.2 936.0 1156.3 939.0 1157.5C942.0 1158.6 945.0 1159.7 948.0 1160.8C951.0 1161.8 954.0 1162.8 957.0 1163.7C960.0 1164.7 963.0 1165.5 966.0 1166.3C969.0 1167.1 972.0 1167.9 975.0 1168.6C978.0 1169.3 981.0 1169.9 984.0 1170.6C987.0 1171.2 990.0 1171.8 993.0 1172.4C996.0 1172.9 999.0 1173.4 1002.0 1173.9C1005.0 1174.3 1008.0 1174.7 1011.0 1175.2C1014.0 1175.6 1017.0 1176.1 1020.0 1176.6C1023.0 1177.0 1026.0 1177.5 1029.0 1178.0C1032.0 1178.4 1035.0 1178.9 1038.0 1179.3C1041.0 1179.7 1044.0 1180.1 1047.0 1180.5C1050.0 1180.8 1053.0 1181.2 1056.0 1181.5C1059.0 1181.8 1062.0 1182.2 1065.0 1182.5C1068.0 1182.8 1071.0 1183.1 1074.0 1183.4C1077.0 1183.8 1080.0 1184.1 1083.0 1184.4C1086.0 1184.7 1089.0 1185.0 1092.0 1185.2C1095.0 1185.5 1098.0 1185.7 1101.0 1185.9C1104.0 1186.1 1107.0 1186.3 1110.0 1186.5C1113.0 1186.7 1116.0 1186.9 1119.0 1187.0C1122.0 1187.1 1125.0 1187.2 1128.0 1187.3C1131.0 1187.4 1134.0 1187.5 1137.0 1187.6C1140.0 1187.7 1143.0 1187.8 1146.0 1187.9C1149.0 1187.9 1152.0 1188.0 1155.0 1188.0C1158.0 1188.1 1161.0 1188.1 1164.0 1188.2C1167.0 1188.2 1170.0 1188.2 1173.0 1188.3C1176.0 1188.3 1179.0 1188.3 1182.0 1188.4C1185.0 1188.4 1188.0 1188.4 1191.0 1188.4C1194.0 1188.5 1197.0 1188.5 1200.0 1188.5C1203.0 1188.5 1206.0 1188.5 1209.0 1188.6C1212.0 1188.6 1215.0 1188.6 1218.0 1188.6C1221.0 1188.6 1224.0 1188.6 1227.0 1188.7C1230.0 1188.7 1233.3 1188.7 1236.0 1188.7C1238.7 1188.7 1241.8 1188.7 1243.0 1188.7" stroke="#f96c0e" stroke-dasharray="17.6 8.9"/>
<path class="c" d="M291.0 1202.3C292.5 1202.3 297.0 1202.3 300.0 1202.3C303.0 1202.3 306.0 1202.3 309.0 1202.3C312.0 1202.3 315.0 1202.3 318.0 1202.3C321.0 1202.3 324.0 1202.3 327.0 1202.3C330.0 1202.3 333.0 1202.3 336.0 1202.3C339.0 1202.3 342.0 1202.3 345.0 1202.3C348.0 1202.3 351.0 1202.3 354.0 1202.3C357.0 1202.3 360.0 1202.3 363.0 1202.3C366.0 1202.3 369.0 1202.4 372.0 1202.4C375.0 1202.4 378.0 1202.4 381.0 1202.4C384.0 1202.5 387.0 1202.5 390.0 1202.5C393.0 1202.5 396.0 1202.6 399.0 1202.6C402.0 1202.6 405.0 1202.7 408.0 1202.7C411.0 1202.8 414.0 1202.8 417.0 1202.9C420.0 1202.9 423.0 1203.0 426.0 1203.1C429.0 1203.2 432.0 1203.3 435.0 1203.4C438.0 1203.4 441.0 1203.5 444.0 1203.6C447.0 1203.7 450.0 1203.9 453.0 1204.0C456.0 1204.1 459.0 1204.3 462.0 1204.4C465.0 1204.6 468.0 1204.7 471.0 1204.9C474.0 1205.1 477.0 1205.3 480.0 1205.5C483.0 1205.7 486.0 1205.9 489.0 1206.1C492.0 1206.3 495.0 1206.6 498.0 1206.9C501.0 1207.2 504.0 1207.5 507.0 1207.8C510.0 1208.2 513.0 1208.5 516.0 1208.9C519.0 1209.3 522.0 1209.7 525.0 1210.2C528.0 1210.6 531.0 1211.1 534.0 1211.5C537.0 1212.0 540.0 1212.4 543.0 1212.9C546.0 1213.4 549.0 1214.0 552.0 1214.6C555.0 1215.2 558.0 1215.9 561.0 1216.7C564.0 1217.5 567.0 1218.3 570.0 1219.1C573.0 1220.0 576.0 1221.0 579.0 1221.9C582.0 1222.9 585.0 1223.9 588.0 1224.9C591.0 1225.9 594.0 1226.9 597.0 1227.9C600.0 1228.9 603.0 1229.9 606.0 1231.0C609.0 1232.2 612.0 1233.3 615.0 1234.7C618.0 1236.1 621.0 1237.6 624.0 1239.3C627.0 1241.0 630.0 1242.9 633.0 1244.8C636.0 1246.8 639.0 1248.8 642.0 1251.0C645.0 1253.2 648.0 1255.5 651.0 1257.9C654.0 1260.3 657.0 1262.8 660.0 1265.4C663.0 1268.0 666.0 1270.6 669.0 1273.4C672.0 1276.2 675.0 1279.1 678.0 1282.1C681.0 1285.2 684.0 1288.5 687.0 1291.7C690.0 1295.0 693.0 1298.4 696.0 1301.6C699.0 1304.9 702.0 1308.1 705.0 1311.4C708.0 1314.7 711.0 1318.1 714.0 1321.6C717.0 1325.2 720.0 1329.1 723.0 1332.8C726.0 1336.4 729.0 1340.1 732.0 1343.3C735.0 1346.6 738.0 1349.7 741.0 1352.3C744.0 1354.9 747.0 1357.1 750.0 1358.9C753.0 1360.8 756.0 1362.4 759.0 1363.3C762.0 1364.2 765.0 1364.8 768.0 1364.4C771.0 1364.0 774.0 1362.5 777.0 1361.0C780.0 1359.4 783.0 1357.4 786.0 1355.1C789.0 1352.8 792.0 1350.2 795.0 1347.4C798.0 1344.5 801.0 1341.2 804.0 1338.0C807.0 1334.8 810.0 1331.4 813.0 1328.1C816.0 1324.8 819.0 1321.5 822.0 1318.3C825.0 1315.1 828.0 1312.0 831.0 1308.9C834.0 1305.9 837.0 1302.9 840.0 1300.0C843.0 1297.0 846.0 1294.1 849.0 1291.2C852.0 1288.4 855.0 1285.5 858.0 1282.9C861.0 1280.3 864.0 1277.8 867.0 1275.4C870.0 1273.0 873.0 1270.7 876.0 1268.5C879.0 1266.3 882.0 1264.1 885.0 1262.1C888.0 1260.1 891.0 1258.1 894.0 1256.3C897.0 1254.4 900.0 1252.6 903.0 1251.0C906.0 1249.4 909.0 1247.8 912.0 1246.4C915.0 1244.9 918.0 1243.6 921.0 1242.3C924.0 1241.0 927.0 1239.7 930.0 1238.5C933.0 1237.2 936.0 1236.1 939.0 1234.9C942.0 1233.8 945.0 1232.7 948.0 1231.6C951.0 1230.6 954.0 1229.6 957.0 1228.7C960.0 1227.7 963.0 1226.9 966.0 1226.1C969.0 1225.3 972.0 1224.5 975.0 1223.8C978.0 1223.1 981.0 1222.5 984.0 1221.8C987.0 1221.2 990.0 1220.6 993.0 1220.0C996.0 1219.5 999.0 1219.0 1002.0 1218.5C1005.0 1218.1 1008.0 1217.7 1011.0 1217.2C1014.0 1216.8 1017.0 1216.3 1020.0 1215.8C1023.0 1215.4 1026.0 1214.9 1029.0 1214.4C1032.0 1214.0 1035.0 1213.5 1038.0 1213.1C1041.0 1212.7 1044.0 1212.3 1047.0 1211.9C1050.0 1211.6 1053.0 1211.2 1056.0 1210.9C1059.0 1210.6 1062.0 1210.2 1065.0 1209.9C1068.0 1209.6 1071.0 1209.3 1074.0 1209.0C1077.0 1208.6 1080.0 1208.3 1083.0 1208.0C1086.0 1207.7 1089.0 1207.4 1092.0 1207.2C1095.0 1206.9 1098.0 1206.7 1101.0 1206.5C1104.0 1206.3 1107.0 1206.1 1110.0 1205.9C1113.0 1205.7 1116.0 1205.5 1119.0 1205.4C1122.0 1205.3 1125.0 1205.2 1128.0 1205.1C1131.0 1205.0 1134.0 1204.9 1137.0 1204.8C1140.0 1204.7 1143.0 1204.6 1146.0 1204.5C1149.0 1204.5 1152.0 1204.4 1155.0 1204.4C1158.0 1204.3 1161.0 1204.3 1164.0 1204.2C1167.0 1204.2 1170.0 1204.2 1173.0 1204.1C1176.0 1204.1 1179.0 1204.1 1182.0 1204.0C1185.0 1204.0 1188.0 1204.0 1191.0 1204.0C1194.0 1203.9 1197.0 1203.9 1200.0 1203.9C1203.0 1203.9 1206.0 1203.9 1209.0 1203.8C1212.0 1203.8 1215.0 1203.8 1218.0 1203.8C1221.0 1203.8 1224.0 1203.8 1227.0 1203.7C1230.0 1203.7 1233.3 1203.7 1236.0 1203.7C1238.7 1203.7 1241.8 1203.7 1243.0 1203.7" stroke="#f96c0e" stroke-dasharray="17.6 8.9"/>
<path class="c" d="M291.0 1190.1C292.5 1190.1 297.0 1190.1 300.0 1190.1C303.0 1190.1 306.0 1190.1 309.0 1190.1C312.0 1190.1 315.0 1190.1 318.0 1190.1C321.0 1190.1 324.0 1190.1 327.0 1190.1C330.0 1190.1 333.0 1190.1 336.0 1190.1C339.0 1190.1 342.0 1190.1 345.0 1190.1C348.0 1190.1 351.0 1190.1 354.0 1190.1C357.0 1190.1 360.0 1190.1 363.0 1190.1C366.0 1190.1 369.0 1190.1 372.0 1190.1C375.0 1190.1 378.0 1190.1 381.0 1190.1C384.0 1190.1 387.0 1190.1 390.0 1190.1C393.0 1190.1 396.0 1190.1 399.0 1190.1C402.0 1190.1 405.0 1190.1 408.0 1190.1C411.0 1190.1 414.0 1190.1 417.0 1190.1C420.0 1190.1 423.0 1190.1 426.0 1190.1C429.0 1190.1 432.0 1190.1 435.0 1190.0C438.0 1190.0 441.0 1190.0 444.0 1190.0C447.0 1190.0 450.0 1190.0 453.0 1190.0C456.0 1190.0 459.0 1190.0 462.0 1189.9C465.0 1189.9 468.0 1189.9 471.0 1189.9C474.0 1189.9 477.0 1189.8 480.0 1189.8C483.0 1189.8 486.0 1189.7 489.0 1189.7C492.0 1189.7 495.0 1189.6 498.0 1189.6C501.0 1189.5 504.0 1189.5 507.0 1189.4C510.0 1189.3 513.0 1189.2 516.0 1189.1C519.0 1189.0 522.0 1188.9 525.0 1188.7C528.0 1188.6 531.0 1188.5 534.0 1188.3C537.0 1188.1 540.0 1187.9 543.0 1187.7C546.0 1187.4 549.0 1187.1 552.0 1186.8C555.0 1186.6 558.0 1186.2 561.0 1185.9C564.0 1185.6 567.0 1185.2 570.0 1184.9C573.0 1184.5 576.0 1184.2 579.0 1183.8C582.0 1183.5 585.0 1183.1 588.0 1182.8C591.0 1182.4 594.0 1182.0 597.0 1181.6C600.0 1181.2 603.0 1180.8 606.0 1180.4C609.0 1179.9 612.0 1179.5 615.0 1179.0C618.0 1178.5 621.0 1177.9 624.0 1177.4C627.0 1176.8 630.0 1176.2 633.0 1175.5C636.0 1174.9 639.0 1174.2 642.0 1173.4C645.0 1172.7 648.0 1171.9 651.0 1171.0C654.0 1170.2 657.0 1169.3 660.0 1168.3C663.0 1167.3 666.0 1166.2 669.0 1165.0C672.0 1163.8 675.0 1162.5 678.0 1161.2C681.0 1159.8 684.0 1158.4 687.0 1156.9C690.0 1155.4 693.0 1153.9 696.0 1152.2C699.0 1150.5 702.0 1148.7 705.0 1146.8C708.0 1144.9 711.0 1142.8 714.0 1140.7C717.0 1138.5 720.0 1136.3 723.0 1134.0C726.0 1131.7 729.0 1129.4 732.0 1126.9C735.0 1124.4 738.0 1121.9 741.0 1119.1C744.0 1116.4 747.0 1113.5 750.0 1110.3C753.0 1107.1 756.0 1103.4 759.0 1099.8C762.0 1096.2 765.0 1092.3 768.0 1088.6C771.0 1084.9 774.0 1081.3 777.0 1077.6C780.0 1074.0 783.0 1070.2 786.0 1066.6C789.0 1063.1 792.0 1059.6 795.0 1056.4C798.0 1053.1 801.0 1050.0 804.0 1047.2C807.0 1044.4 810.0 1041.7 813.0 1039.3C816.0 1037.0 819.0 1034.7 822.0 1032.9C825.0 1031.1 828.0 1029.4 831.0 1028.5C834.0 1027.6 837.0 1027.1 840.0 1027.2C843.0 1027.4 846.0 1028.3 849.0 1029.5C852.0 1030.8 855.0 1032.7 858.0 1034.7C861.0 1036.7 864.0 1039.2 867.0 1041.8C870.0 1044.3 873.0 1047.2 876.0 1050.1C879.0 1053.0 882.0 1056.0 885.0 1059.1C888.0 1062.1 891.0 1065.2 894.0 1068.4C897.0 1071.5 900.0 1074.7 903.0 1077.8C906.0 1080.9 909.0 1084.0 912.0 1087.1C915.0 1090.1 918.0 1093.1 921.0 1095.9C924.0 1098.8 927.0 1101.6 930.0 1104.3C933.0 1107.1 936.0 1109.7 939.0 1112.4C942.0 1115.0 945.0 1117.6 948.0 1120.2C951.0 1122.7 954.0 1125.2 957.0 1127.6C960.0 1130.0 963.0 1132.3 966.0 1134.5C969.0 1136.7 972.0 1138.8 975.0 1140.7C978.0 1142.7 981.0 1144.5 984.0 1146.2C987.0 1147.9 990.0 1149.4 993.0 1150.9C996.0 1152.3 999.0 1153.6 1002.0 1154.8C1005.0 1156.1 1008.0 1157.3 1011.0 1158.5C1014.0 1159.7 1017.0 1160.8 1020.0 1161.9C1023.0 1163.1 1026.0 1164.2 1029.0 1165.2C1032.0 1166.2 1035.0 1167.1 1038.0 1168.0C1041.0 1168.8 1044.0 1169.6 1047.0 1170.4C1050.0 1171.2 1053.0 1171.9 1056.0 1172.5C1059.0 1173.2 1062.0 1173.9 1065.0 1174.5C1068.0 1175.1 1071.0 1175.7 1074.0 1176.3C1077.0 1176.8 1080.0 1177.4 1083.0 1177.9C1086.0 1178.4 1089.0 1178.8 1092.0 1179.2C1095.0 1179.6 1098.0 1180.0 1101.0 1180.3C1104.0 1180.7 1107.0 1181.0 1110.0 1181.3C1113.0 1181.7 1116.0 1182.0 1119.0 1182.3C1122.0 1182.6 1125.0 1182.9 1128.0 1183.2C1131.0 1183.4 1134.0 1183.6 1137.0 1183.8C1140.0 1184.0 1143.0 1184.2 1146.0 1184.3C1149.0 1184.5 1152.0 1184.6 1155.0 1184.7C1158.0 1184.9 1161.0 1185.0 1164.0 1185.1C1167.0 1185.2 1170.0 1185.3 1173.0 1185.4C1176.0 1185.5 1179.0 1185.6 1182.0 1185.6C1185.0 1185.7 1188.0 1185.8 1191.0 1185.9C1194.0 1185.9 1197.0 1186.0 1200.0 1186.1C1203.0 1186.1 1206.0 1186.2 1209.0 1186.3C1212.0 1186.4 1215.0 1186.6 1218.0 1186.8C1221.0 1187.0 1224.0 1187.2 1227.0 1187.5C1230.0 1187.7 1233.7 1188.1 1236.0 1188.3C1238.3 1188.5 1240.2 1188.8 1241.0 1188.9" stroke="#ca0a32" stroke-dasharray="17.6 9.2 4 9.2"/>
<path class="c" d="M291.0 1202.3C292.5 1202.3 297.0 1202.3 300.0 1202.3C303.0 1202.3 306.0 1202.3 309.0 1202.3C312.0 1202.3 315.0 1202.3 318.0 1202.3C321.0 1202.3 324.0 1202.3 327.0 1202.3C330.0 1202.3 333.0 1202.3 336.0 1202.3C339.0 1202.3 342.0 1202.3 345.0 1202.3C348.0 1202.3 351.0 1202.3 354.0 1202.3C357.0 1202.3 360.0 1202.3 363.0 1202.3C366.0 1202.3 369.0 1202.3 372.0 1202.3C375.0 1202.3 378.0 1202.3 381.0 1202.3C384.0 1202.3 387.0 1202.3 390.0 1202.3C393.0 1202.3 396.0 1202.3 399.0 1202.3C402.0 1202.3 405.0 1202.3 408.0 1202.3C411.0 1202.3 414.0 1202.3 417.0 1202.3C420.0 1202.3 423.0 1202.3 426.0 1202.3C429.0 1202.3 432.0 1202.3 435.0 1202.4C438.0 1202.4 441.0 1202.4 444.0 1202.4C447.0 1202.4 450.0 1202.4 453.0 1202.4C456.0 1202.4 459.0 1202.4 462.0 1202.5C465.0 1202.5 468.0 1202.5 471.0 1202.5C474.0 1202.5 477.0 1202.6 480.0 1202.6C483.0 1202.6 486.0 1202.7 489.0 1202.7C492.0 1202.7 495.0 1202.8 498.0 1202.8C501.0 1202.9 504.0 1202.9 507.0 1203.0C510.0 1203.1 513.0 1203.2 516.0 1203.3C519.0 1203.4 522.0 1203.5 525.0 1203.7C528.0 1203.8 531.0 1203.9 534.0 1204.1C537.0 1204.3 540.0 1204.5 543.0 1204.7C546.0 1205.0 549.0 1205.3 552.0 1205.6C555.0 1205.8 558.0 1206.2 561.0 1206.5C564.0 1206.8 567.0 1207.2 570.0 1207.5C573.0 1207.9 576.0 1208.2 579.0 1208.6C582.0 1208.9 585.0 1209.3 588.0 1209.6C591.0 1210.0 594.0 1210.4 597.0 1210.8C600.0 1211.2 603.0 1211.6 606.0 1212.0C609.0 1212.5 612.0 1212.9 615.0 1213.4C618.0 1213.9 621.0 1214.5 624.0 1215.0C627.0 1215.6 630.0 1216.2 633.0 1216.9C636.0 1217.5 639.0 1218.2 642.0 1219.0C645.0 1219.7 648.0 1220.5 651.0 1221.4C654.0 1222.2 657.0 1223.1 660.0 1224.1C663.0 1225.1 666.0 1226.2 669.0 1227.4C672.0 1228.6 675.0 1229.9 678.0 1231.2C681.0 1232.6 684.0 1234.0 687.0 1235.5C690.0 1237.0 693.0 1238.5 696.0 1240.2C699.0 1241.9 702.0 1243.7 705.0 1245.6C708.0 1247.5 711.0 1249.6 714.0 1251.7C717.0 1253.9 720.0 1256.1 723.0 1258.4C726.0 1260.7 729.0 1263.0 732.0 1265.5C735.0 1268.0 738.0 1270.5 741.0 1273.3C744.0 1276.0 747.0 1278.9 750.0 1282.1C753.0 1285.3 756.0 1289.0 759.0 1292.6C762.0 1296.2 765.0 1300.1 768.0 1303.8C771.0 1307.5 774.0 1311.1 777.0 1314.8C780.0 1318.4 783.0 1322.2 786.0 1325.8C789.0 1329.3 792.0 1332.8 795.0 1336.0C798.0 1339.3 801.0 1342.4 804.0 1345.2C807.0 1348.0 810.0 1350.7 813.0 1353.1C816.0 1355.4 819.0 1357.7 822.0 1359.5C825.0 1361.3 828.0 1363.0 831.0 1363.9C834.0 1364.8 837.0 1365.3 840.0 1365.2C843.0 1365.0 846.0 1364.1 849.0 1362.9C852.0 1361.6 855.0 1359.7 858.0 1357.7C861.0 1355.7 864.0 1353.2 867.0 1350.6C870.0 1348.1 873.0 1345.2 876.0 1342.3C879.0 1339.4 882.0 1336.4 885.0 1333.3C888.0 1330.3 891.0 1327.2 894.0 1324.0C897.0 1320.9 900.0 1317.7 903.0 1314.6C906.0 1311.5 909.0 1308.4 912.0 1305.3C915.0 1302.3 918.0 1299.3 921.0 1296.5C924.0 1293.6 927.0 1290.8 930.0 1288.1C933.0 1285.3 936.0 1282.7 939.0 1280.0C942.0 1277.4 945.0 1274.8 948.0 1272.2C951.0 1269.7 954.0 1267.2 957.0 1264.8C960.0 1262.4 963.0 1260.1 966.0 1257.9C969.0 1255.7 972.0 1253.6 975.0 1251.7C978.0 1249.7 981.0 1247.9 984.0 1246.2C987.0 1244.5 990.0 1243.0 993.0 1241.5C996.0 1240.1 999.0 1238.8 1002.0 1237.6C1005.0 1236.3 1008.0 1235.1 1011.0 1233.9C1014.0 1232.7 1017.0 1231.6 1020.0 1230.5C1023.0 1229.3 1026.0 1228.2 1029.0 1227.2C1032.0 1226.2 1035.0 1225.3 1038.0 1224.4C1041.0 1223.6 1044.0 1222.8 1047.0 1222.0C1050.0 1221.2 1053.0 1220.5 1056.0 1219.9C1059.0 1219.2 1062.0 1218.5 1065.0 1217.9C1068.0 1217.3 1071.0 1216.7 1074.0 1216.1C1077.0 1215.6 1080.0 1215.0 1083.0 1214.5C1086.0 1214.0 1089.0 1213.6 1092.0 1213.2C1095.0 1212.8 1098.0 1212.4 1101.0 1212.1C1104.0 1211.7 1107.0 1211.4 1110.0 1211.1C1113.0 1210.7 1116.0 1210.4 1119.0 1210.1C1122.0 1209.8 1125.0 1209.5 1128.0 1209.2C1131.0 1209.0 1134.0 1208.8 1137.0 1208.6C1140.0 1208.4 1143.0 1208.2 1146.0 1208.1C1149.0 1207.9 1152.0 1207.8 1155.0 1207.7C1158.0 1207.5 1161.0 1207.4 1164.0 1207.3C1167.0 1207.2 1170.0 1207.1 1173.0 1207.0C1176.0 1206.9 1179.0 1206.8 1182.0 1206.8C1185.0 1206.7 1188.0 1206.6 1191.0 1206.5C1194.0 1206.5 1197.0 1206.4 1200.0 1206.3C1203.0 1206.3 1206.0 1206.2 1209.0 1206.1C1212.0 1206.0 1215.0 1205.8 1218.0 1205.6C1221.0 1205.4 1224.0 1205.2 1227.0 1204.9C1230.0 1204.7 1233.7 1204.3 1236.0 1204.1C1238.3 1203.9 1240.2 1203.6 1241.0 1203.5" stroke="#ca0a32" stroke-dasharray="17.6 9.2 4 9.2"/>
</g>
<rect x="289.9" y="948.9" width="952.6" height="495.6" fill="none" stroke="#4a4546" stroke-width="1.35"/>
<rect x="289.6" y="1788.4" width="952.9" height="495.8" fill="#eeeef0"/>
<line x1="292.6" y1="1912.1" x2="1242.5" y2="1912.1" class="g"/>
<line x1="292.6" y1="2036.3" x2="1242.5" y2="2036.3" class="g"/>
<line x1="292.6" y1="2159.9" x2="1242.5" y2="2159.9" class="g"/>
<line x1="511.5" y1="1790.4" x2="511.5" y2="2285.0" class="gv"/>
<line x1="829.3" y1="1790.4" x2="829.3" y2="2285.0" class="gv"/>
<line x1="1146.0" y1="1790.4" x2="1146.0" y2="2285.0" class="gv"/>
<clipPath id="kc3"><rect x="290.7" y="1788.4" width="952.8" height="495.8"/></clipPath>
<g clip-path="url(#kc3)">
<path class="c" d="M291.0 2031.9C292.5 2031.9 297.0 2031.9 300.0 2031.9C303.0 2031.8 306.0 2031.8 309.0 2031.7C312.0 2031.7 315.0 2031.6 318.0 2031.6C321.0 2031.5 324.0 2031.4 327.0 2031.3C330.0 2031.2 333.0 2031.2 336.0 2031.1C339.0 2031.0 342.0 2030.9 345.0 2030.8C348.0 2030.7 351.0 2030.6 354.0 2030.4C357.0 2030.3 360.0 2030.1 363.0 2030.0C366.0 2029.8 369.0 2029.6 372.0 2029.3C375.0 2029.1 378.0 2028.9 381.0 2028.8C384.0 2028.6 387.0 2028.5 390.0 2028.2C393.0 2028.0 396.0 2027.8 399.0 2027.4C402.0 2027.1 405.0 2026.6 408.0 2026.2C411.0 2025.7 414.0 2025.3 417.0 2024.8C420.0 2024.3 423.0 2023.9 426.0 2023.4C429.0 2023.0 432.0 2022.5 435.0 2022.0C438.0 2021.5 441.0 2021.0 444.0 2020.3C447.0 2019.6 450.0 2018.7 453.0 2017.7C456.0 2016.7 459.0 2015.6 462.0 2014.5C465.0 2013.4 468.0 2012.4 471.0 2011.2C474.0 2010.0 477.0 2008.7 480.0 2007.4C483.0 2006.0 486.0 2004.4 489.0 2002.8C492.0 2001.2 495.0 1999.6 498.0 1997.8C501.0 1996.1 504.0 1994.3 507.0 1992.3C510.0 1990.4 513.0 1988.3 516.0 1986.1C519.0 1983.9 522.0 1981.6 525.0 1979.1C528.0 1976.6 531.0 1974.0 534.0 1971.2C537.0 1968.5 540.0 1965.7 543.0 1962.8C546.0 1959.9 549.0 1956.9 552.0 1953.9C555.0 1950.9 558.0 1947.8 561.0 1944.7C564.0 1941.5 567.0 1938.3 570.0 1935.2C573.0 1932.1 576.0 1929.0 579.0 1925.9C582.0 1922.9 585.0 1919.9 588.0 1916.9C591.0 1913.9 594.0 1910.8 597.0 1907.8C600.0 1904.8 603.0 1901.8 606.0 1898.9C609.0 1896.1 612.0 1893.3 615.0 1890.6C618.0 1887.9 621.0 1885.2 624.0 1882.7C627.0 1880.1 630.0 1877.3 633.0 1875.2C636.0 1873.1 639.0 1871.1 642.0 1869.9C645.0 1868.6 648.0 1867.7 651.0 1867.6C654.0 1867.5 657.0 1868.2 660.0 1869.2C663.0 1870.2 666.0 1871.7 669.0 1873.7C672.0 1875.7 675.0 1878.6 678.0 1881.3C681.0 1884.0 684.0 1886.8 687.0 1889.8C690.0 1892.8 693.0 1895.9 696.0 1899.2C699.0 1902.4 702.0 1906.0 705.0 1909.4C708.0 1912.8 711.0 1916.3 714.0 1919.7C717.0 1923.0 720.0 1926.3 723.0 1929.5C726.0 1932.7 729.0 1935.9 732.0 1938.9C735.0 1942.0 738.0 1945.0 741.0 1947.8C744.0 1950.7 747.0 1953.5 750.0 1956.3C753.0 1959.0 756.0 1961.7 759.0 1964.2C762.0 1966.8 765.0 1969.2 768.0 1971.5C771.0 1973.8 774.0 1976.0 777.0 1978.1C780.0 1980.2 783.0 1982.2 786.0 1984.1C789.0 1986.0 792.0 1987.8 795.0 1989.5C798.0 1991.1 801.0 1992.6 804.0 1994.0C807.0 1995.4 810.0 1996.7 813.0 1998.0C816.0 1999.2 819.0 2000.4 822.0 2001.5C825.0 2002.6 828.0 2003.6 831.0 2004.6C834.0 2005.5 837.0 2006.4 840.0 2007.2C843.0 2008.1 846.0 2008.9 849.0 2009.7C852.0 2010.5 855.0 2011.2 858.0 2012.0C861.0 2012.7 864.0 2013.4 867.0 2014.0C870.0 2014.6 873.0 2015.2 876.0 2015.8C879.0 2016.3 882.0 2016.8 885.0 2017.3C888.0 2017.8 891.0 2018.2 894.0 2018.6C897.0 2019.1 900.0 2019.5 903.0 2020.0C906.0 2020.4 909.0 2020.9 912.0 2021.3C915.0 2021.7 918.0 2022.1 921.0 2022.4C924.0 2022.8 927.0 2023.1 930.0 2023.4C933.0 2023.7 936.0 2024.0 939.0 2024.2C942.0 2024.4 945.0 2024.6 948.0 2024.8C951.0 2025.0 954.0 2025.2 957.0 2025.4C960.0 2025.6 963.0 2025.8 966.0 2026.0C969.0 2026.2 972.0 2026.4 975.0 2026.6C978.0 2026.8 981.0 2027.0 984.0 2027.2C987.0 2027.4 990.0 2027.6 993.0 2027.8C996.0 2028.1 999.0 2028.3 1002.0 2028.5C1005.0 2028.7 1008.0 2028.9 1011.0 2029.0C1014.0 2029.2 1017.0 2029.3 1020.0 2029.4C1023.0 2029.6 1026.0 2029.7 1029.0 2029.8C1032.0 2029.9 1035.0 2030.0 1038.0 2030.1C1041.0 2030.2 1044.0 2030.3 1047.0 2030.3C1050.0 2030.4 1053.0 2030.5 1056.0 2030.5C1059.0 2030.6 1062.0 2030.6 1065.0 2030.7C1068.0 2030.7 1071.0 2030.8 1074.0 2030.8C1077.0 2030.9 1080.0 2030.9 1083.0 2031.0C1086.0 2031.0 1089.0 2031.0 1092.0 2031.1C1095.0 2031.1 1098.0 2031.1 1101.0 2031.1C1104.0 2031.1 1107.0 2031.1 1110.0 2031.1C1113.0 2031.1 1116.0 2031.1 1119.0 2031.2C1122.0 2031.2 1125.0 2031.2 1128.0 2031.2C1131.0 2031.2 1134.0 2031.2 1137.0 2031.2C1140.0 2031.2 1143.0 2031.2 1146.0 2031.2C1149.0 2031.2 1152.0 2031.2 1155.0 2031.2C1158.0 2031.2 1161.0 2031.2 1164.0 2031.2C1167.0 2031.2 1170.0 2031.2 1173.0 2031.2C1176.0 2031.2 1179.0 2031.2 1182.0 2031.2C1185.0 2031.2 1188.0 2031.2 1191.0 2031.2C1194.0 2031.2 1197.0 2031.2 1200.0 2031.2C1203.0 2031.2 1206.0 2031.2 1209.0 2031.2C1212.0 2031.2 1215.0 2031.2 1218.0 2031.2C1221.0 2031.2 1224.0 2031.1 1227.0 2031.1C1230.0 2031.1 1233.4 2031.1 1236.0 2031.1C1238.6 2031.1 1241.7 2031.1 1242.8 2031.1" stroke="#fb9732"/>
<path class="c" d="M291.0 2040.5C292.5 2040.5 297.0 2040.5 300.0 2040.5C303.0 2040.6 306.0 2040.6 309.0 2040.7C312.0 2040.7 315.0 2040.8 318.0 2040.8C321.0 2040.9 324.0 2041.0 327.0 2041.1C330.0 2041.2 333.0 2041.2 336.0 2041.3C339.0 2041.4 342.0 2041.5 345.0 2041.6C348.0 2041.7 351.0 2041.8 354.0 2042.0C357.0 2042.1 360.0 2042.3 363.0 2042.4C366.0 2042.6 369.0 2042.8 372.0 2043.1C375.0 2043.3 378.0 2043.5 381.0 2043.6C384.0 2043.8 387.0 2043.9 390.0 2044.2C393.0 2044.4 396.0 2044.6 399.0 2045.0C402.0 2045.3 405.0 2045.8 408.0 2046.2C411.0 2046.7 414.0 2047.1 417.0 2047.6C420.0 2048.1 423.0 2048.5 426.0 2049.0C429.0 2049.4 432.0 2049.9 435.0 2050.4C438.0 2050.9 441.0 2051.4 444.0 2052.1C447.0 2052.8 450.0 2053.7 453.0 2054.7C456.0 2055.7 459.0 2056.8 462.0 2057.9C465.0 2059.0 468.0 2060.0 471.0 2061.2C474.0 2062.4 477.0 2063.7 480.0 2065.0C483.0 2066.4 486.0 2068.0 489.0 2069.6C492.0 2071.2 495.0 2072.8 498.0 2074.6C501.0 2076.3 504.0 2078.1 507.0 2080.1C510.0 2082.0 513.0 2084.1 516.0 2086.3C519.0 2088.5 522.0 2090.8 525.0 2093.3C528.0 2095.8 531.0 2098.4 534.0 2101.2C537.0 2103.9 540.0 2106.7 543.0 2109.6C546.0 2112.5 549.0 2115.5 552.0 2118.5C555.0 2121.5 558.0 2124.6 561.0 2127.7C564.0 2130.9 567.0 2134.1 570.0 2137.2C573.0 2140.3 576.0 2143.4 579.0 2146.5C582.0 2149.5 585.0 2152.5 588.0 2155.5C591.0 2158.5 594.0 2161.6 597.0 2164.6C600.0 2167.6 603.0 2170.6 606.0 2173.5C609.0 2176.3 612.0 2179.1 615.0 2181.8C618.0 2184.5 621.0 2187.2 624.0 2189.7C627.0 2192.3 630.0 2195.1 633.0 2197.2C636.0 2199.3 639.0 2201.3 642.0 2202.5C645.0 2203.8 648.0 2204.7 651.0 2204.8C654.0 2204.9 657.0 2204.2 660.0 2203.2C663.0 2202.2 666.0 2200.7 669.0 2198.7C672.0 2196.7 675.0 2193.8 678.0 2191.1C681.0 2188.4 684.0 2185.6 687.0 2182.6C690.0 2179.6 693.0 2176.5 696.0 2173.2C699.0 2170.0 702.0 2166.4 705.0 2163.0C708.0 2159.6 711.0 2156.1 714.0 2152.7C717.0 2149.4 720.0 2146.1 723.0 2142.9C726.0 2139.7 729.0 2136.5 732.0 2133.5C735.0 2130.4 738.0 2127.4 741.0 2124.6C744.0 2121.7 747.0 2118.9 750.0 2116.1C753.0 2113.4 756.0 2110.7 759.0 2108.2C762.0 2105.6 765.0 2103.2 768.0 2100.9C771.0 2098.6 774.0 2096.4 777.0 2094.3C780.0 2092.2 783.0 2090.2 786.0 2088.3C789.0 2086.4 792.0 2084.6 795.0 2082.9C798.0 2081.3 801.0 2079.8 804.0 2078.4C807.0 2077.0 810.0 2075.7 813.0 2074.4C816.0 2073.2 819.0 2072.0 822.0 2070.9C825.0 2069.8 828.0 2068.8 831.0 2067.8C834.0 2066.9 837.0 2066.0 840.0 2065.2C843.0 2064.3 846.0 2063.5 849.0 2062.7C852.0 2061.9 855.0 2061.2 858.0 2060.4C861.0 2059.7 864.0 2059.0 867.0 2058.4C870.0 2057.8 873.0 2057.2 876.0 2056.6C879.0 2056.1 882.0 2055.6 885.0 2055.1C888.0 2054.6 891.0 2054.2 894.0 2053.8C897.0 2053.3 900.0 2052.9 903.0 2052.4C906.0 2052.0 909.0 2051.5 912.0 2051.1C915.0 2050.7 918.0 2050.3 921.0 2050.0C924.0 2049.6 927.0 2049.3 930.0 2049.0C933.0 2048.7 936.0 2048.4 939.0 2048.2C942.0 2048.0 945.0 2047.8 948.0 2047.6C951.0 2047.4 954.0 2047.2 957.0 2047.0C960.0 2046.8 963.0 2046.6 966.0 2046.4C969.0 2046.2 972.0 2046.0 975.0 2045.8C978.0 2045.6 981.0 2045.4 984.0 2045.2C987.0 2045.0 990.0 2044.8 993.0 2044.6C996.0 2044.3 999.0 2044.1 1002.0 2043.9C1005.0 2043.7 1008.0 2043.5 1011.0 2043.4C1014.0 2043.2 1017.0 2043.1 1020.0 2043.0C1023.0 2042.8 1026.0 2042.7 1029.0 2042.6C1032.0 2042.5 1035.0 2042.4 1038.0 2042.3C1041.0 2042.2 1044.0 2042.1 1047.0 2042.1C1050.0 2042.0 1053.0 2041.9 1056.0 2041.9C1059.0 2041.8 1062.0 2041.8 1065.0 2041.7C1068.0 2041.7 1071.0 2041.6 1074.0 2041.6C1077.0 2041.5 1080.0 2041.5 1083.0 2041.4C1086.0 2041.4 1089.0 2041.4 1092.0 2041.3C1095.0 2041.3 1098.0 2041.3 1101.0 2041.3C1104.0 2041.3 1107.0 2041.3 1110.0 2041.3C1113.0 2041.3 1116.0 2041.3 1119.0 2041.2C1122.0 2041.2 1125.0 2041.2 1128.0 2041.2C1131.0 2041.2 1134.0 2041.2 1137.0 2041.2C1140.0 2041.2 1143.0 2041.2 1146.0 2041.2C1149.0 2041.2 1152.0 2041.2 1155.0 2041.2C1158.0 2041.2 1161.0 2041.2 1164.0 2041.2C1167.0 2041.2 1170.0 2041.2 1173.0 2041.2C1176.0 2041.2 1179.0 2041.2 1182.0 2041.2C1185.0 2041.2 1188.0 2041.2 1191.0 2041.2C1194.0 2041.2 1197.0 2041.2 1200.0 2041.2C1203.0 2041.2 1206.0 2041.2 1209.0 2041.2C1212.0 2041.2 1215.0 2041.2 1218.0 2041.2C1221.0 2041.2 1224.0 2041.3 1227.0 2041.3C1230.0 2041.3 1233.4 2041.3 1236.0 2041.3C1238.6 2041.3 1241.7 2041.3 1242.8 2041.3" stroke="#fb9732"/>
<path class="c" d="M291.0 2031.9C292.5 2031.9 297.0 2031.9 300.0 2031.9C303.0 2031.9 306.0 2031.9 309.0 2031.9C312.0 2031.9 315.0 2031.8 318.0 2031.8C321.0 2031.8 324.0 2031.8 327.0 2031.8C330.0 2031.8 333.0 2031.7 336.0 2031.7C339.0 2031.7 342.0 2031.7 345.0 2031.6C348.0 2031.6 351.0 2031.6 354.0 2031.6C357.0 2031.5 360.0 2031.5 363.0 2031.4C366.0 2031.4 369.0 2031.3 372.0 2031.3C375.0 2031.2 378.0 2031.2 381.0 2031.1C384.0 2031.0 387.0 2031.0 390.0 2030.9C393.0 2030.8 396.0 2030.8 399.0 2030.7C402.0 2030.6 405.0 2030.5 408.0 2030.4C411.0 2030.3 414.0 2030.2 417.0 2030.1C420.0 2030.0 423.0 2029.9 426.0 2029.8C429.0 2029.6 432.0 2029.5 435.0 2029.3C438.0 2029.1 441.0 2028.8 444.0 2028.5C447.0 2028.3 450.0 2028.0 453.0 2027.7C456.0 2027.4 459.0 2027.1 462.0 2026.8C465.0 2026.5 468.0 2026.3 471.0 2026.0C474.0 2025.7 477.0 2025.4 480.0 2025.1C483.0 2024.8 486.0 2024.4 489.0 2024.0C492.0 2023.6 495.0 2023.2 498.0 2022.7C501.0 2022.3 504.0 2021.8 507.0 2021.3C510.0 2020.7 513.0 2020.2 516.0 2019.6C519.0 2019.0 522.0 2018.3 525.0 2017.6C528.0 2017.0 531.0 2016.2 534.0 2015.5C537.0 2014.7 540.0 2013.9 543.0 2013.1C546.0 2012.2 549.0 2011.4 552.0 2010.4C555.0 2009.5 558.0 2008.5 561.0 2007.4C564.0 2006.4 567.0 2005.2 570.0 2004.0C573.0 2002.8 576.0 2001.5 579.0 2000.1C582.0 1998.6 585.0 1997.1 588.0 1995.3C591.0 1993.6 594.0 1991.6 597.0 1989.5C600.0 1987.4 603.0 1985.2 606.0 1982.7C609.0 1980.3 612.0 1977.7 615.0 1975.0C618.0 1972.3 621.0 1969.3 624.0 1966.5C627.0 1963.7 630.0 1960.8 633.0 1958.0C636.0 1955.1 639.0 1952.3 642.0 1949.3C645.0 1946.4 648.0 1943.4 651.0 1940.3C654.0 1937.2 657.0 1934.0 660.0 1930.8C663.0 1927.6 666.0 1924.3 669.0 1921.0C672.0 1917.6 675.0 1914.2 678.0 1910.7C681.0 1907.3 684.0 1903.6 687.0 1900.1C690.0 1896.6 693.0 1892.8 696.0 1889.5C699.0 1886.2 702.0 1883.1 705.0 1880.4C708.0 1877.7 711.0 1875.2 714.0 1873.2C717.0 1871.3 720.0 1869.7 723.0 1868.8C726.0 1867.9 729.0 1867.5 732.0 1867.8C735.0 1868.1 738.0 1869.3 741.0 1870.7C744.0 1872.1 747.0 1873.9 750.0 1876.2C753.0 1878.5 756.0 1881.5 759.0 1884.5C762.0 1887.4 765.0 1890.5 768.0 1893.7C771.0 1896.9 774.0 1900.3 777.0 1903.6C780.0 1906.9 783.0 1910.2 786.0 1913.4C789.0 1916.6 792.0 1919.7 795.0 1922.8C798.0 1925.9 801.0 1928.9 804.0 1931.8C807.0 1934.7 810.0 1937.5 813.0 1940.3C816.0 1943.1 819.0 1945.8 822.0 1948.4C825.0 1951.1 828.0 1953.7 831.0 1956.3C834.0 1958.8 837.0 1961.2 840.0 1963.5C843.0 1965.8 846.0 1967.9 849.0 1970.0C852.0 1972.1 855.0 1974.1 858.0 1976.0C861.0 1977.8 864.0 1979.6 867.0 1981.3C870.0 1983.0 873.0 1984.6 876.0 1986.1C879.0 1987.6 882.0 1989.1 885.0 1990.5C888.0 1991.8 891.0 1993.2 894.0 1994.4C897.0 1995.6 900.0 1996.8 903.0 1998.0C906.0 1999.1 909.0 2000.1 912.0 2001.1C915.0 2002.1 918.0 2003.0 921.0 2003.9C924.0 2004.8 927.0 2005.7 930.0 2006.5C933.0 2007.3 936.0 2008.1 939.0 2008.9C942.0 2009.7 945.0 2010.5 948.0 2011.2C951.0 2012.0 954.0 2012.7 957.0 2013.4C960.0 2014.0 963.0 2014.7 966.0 2015.3C969.0 2015.8 972.0 2016.3 975.0 2016.9C978.0 2017.4 981.0 2017.8 984.0 2018.4C987.0 2018.9 990.0 2019.5 993.0 2020.1C996.0 2020.6 999.0 2021.3 1002.0 2021.8C1005.0 2022.3 1008.0 2022.6 1011.0 2023.0C1014.0 2023.4 1017.0 2023.7 1020.0 2024.0C1023.0 2024.4 1026.0 2024.7 1029.0 2025.1C1032.0 2025.4 1035.0 2025.7 1038.0 2026.1C1041.0 2026.4 1044.0 2026.7 1047.0 2026.9C1050.0 2027.2 1053.0 2027.4 1056.0 2027.6C1059.0 2027.9 1062.0 2028.1 1065.0 2028.3C1068.0 2028.5 1071.0 2028.7 1074.0 2028.9C1077.0 2029.0 1080.0 2029.2 1083.0 2029.4C1086.0 2029.5 1089.0 2029.6 1092.0 2029.7C1095.0 2029.9 1098.0 2029.9 1101.0 2030.0C1104.0 2030.1 1107.0 2030.1 1110.0 2030.2C1113.0 2030.3 1116.0 2030.3 1119.0 2030.4C1122.0 2030.4 1125.0 2030.5 1128.0 2030.5C1131.0 2030.5 1134.0 2030.6 1137.0 2030.6C1140.0 2030.6 1143.0 2030.7 1146.0 2030.7C1149.0 2030.7 1152.0 2030.7 1155.0 2030.7C1158.0 2030.7 1161.0 2030.7 1164.0 2030.8C1167.0 2030.8 1170.0 2030.8 1173.0 2030.8C1176.0 2030.8 1179.0 2030.8 1182.0 2030.8C1185.0 2030.8 1188.0 2030.8 1191.0 2030.8C1194.0 2030.8 1197.0 2030.8 1200.0 2030.9C1203.0 2030.9 1206.0 2030.9 1209.0 2030.9C1212.0 2030.9 1215.0 2030.9 1218.0 2030.9C1221.0 2030.9 1224.0 2030.9 1227.0 2030.9C1230.0 2030.9 1233.5 2030.9 1236.0 2030.9C1238.5 2030.9 1241.0 2030.9 1242.0 2030.9" stroke="#f96c0e" stroke-dasharray="17.6 8.9"/>
<path class="c" d="M291.0 2040.5C292.5 2040.5 297.0 2040.5 300.0 2040.5C303.0 2040.5 306.0 2040.5 309.0 2040.5C312.0 2040.5 315.0 2040.6 318.0 2040.6C321.0 2040.6 324.0 2040.6 327.0 2040.6C330.0 2040.6 333.0 2040.7 336.0 2040.7C339.0 2040.7 342.0 2040.7 345.0 2040.8C348.0 2040.8 351.0 2040.8 354.0 2040.8C357.0 2040.9 360.0 2040.9 363.0 2041.0C366.0 2041.0 369.0 2041.1 372.0 2041.1C375.0 2041.2 378.0 2041.2 381.0 2041.3C384.0 2041.4 387.0 2041.4 390.0 2041.5C393.0 2041.6 396.0 2041.6 399.0 2041.7C402.0 2041.8 405.0 2041.9 408.0 2042.0C411.0 2042.1 414.0 2042.2 417.0 2042.3C420.0 2042.4 423.0 2042.5 426.0 2042.6C429.0 2042.8 432.0 2042.9 435.0 2043.1C438.0 2043.3 441.0 2043.6 444.0 2043.9C447.0 2044.1 450.0 2044.4 453.0 2044.7C456.0 2045.0 459.0 2045.3 462.0 2045.6C465.0 2045.9 468.0 2046.1 471.0 2046.4C474.0 2046.7 477.0 2047.0 480.0 2047.3C483.0 2047.6 486.0 2048.0 489.0 2048.4C492.0 2048.8 495.0 2049.2 498.0 2049.7C501.0 2050.1 504.0 2050.6 507.0 2051.1C510.0 2051.7 513.0 2052.2 516.0 2052.8C519.0 2053.4 522.0 2054.1 525.0 2054.8C528.0 2055.4 531.0 2056.2 534.0 2056.9C537.0 2057.7 540.0 2058.5 543.0 2059.3C546.0 2060.2 549.0 2061.0 552.0 2062.0C555.0 2062.9 558.0 2063.9 561.0 2065.0C564.0 2066.0 567.0 2067.2 570.0 2068.4C573.0 2069.6 576.0 2070.9 579.0 2072.3C582.0 2073.8 585.0 2075.3 588.0 2077.1C591.0 2078.8 594.0 2080.8 597.0 2082.9C600.0 2085.0 603.0 2087.2 606.0 2089.7C609.0 2092.1 612.0 2094.7 615.0 2097.4C618.0 2100.1 621.0 2103.1 624.0 2105.9C627.0 2108.7 630.0 2111.6 633.0 2114.4C636.0 2117.3 639.0 2120.1 642.0 2123.1C645.0 2126.0 648.0 2129.0 651.0 2132.1C654.0 2135.2 657.0 2138.4 660.0 2141.6C663.0 2144.8 666.0 2148.1 669.0 2151.4C672.0 2154.8 675.0 2158.2 678.0 2161.7C681.0 2165.1 684.0 2168.8 687.0 2172.3C690.0 2175.8 693.0 2179.6 696.0 2182.9C699.0 2186.2 702.0 2189.3 705.0 2192.0C708.0 2194.7 711.0 2197.2 714.0 2199.2C717.0 2201.1 720.0 2202.7 723.0 2203.6C726.0 2204.5 729.0 2204.9 732.0 2204.6C735.0 2204.3 738.0 2203.1 741.0 2201.7C744.0 2200.3 747.0 2198.5 750.0 2196.2C753.0 2193.9 756.0 2190.9 759.0 2187.9C762.0 2185.0 765.0 2181.9 768.0 2178.7C771.0 2175.5 774.0 2172.1 777.0 2168.8C780.0 2165.5 783.0 2162.2 786.0 2159.0C789.0 2155.8 792.0 2152.7 795.0 2149.6C798.0 2146.5 801.0 2143.5 804.0 2140.6C807.0 2137.7 810.0 2134.9 813.0 2132.1C816.0 2129.3 819.0 2126.6 822.0 2124.0C825.0 2121.3 828.0 2118.7 831.0 2116.1C834.0 2113.6 837.0 2111.2 840.0 2108.9C843.0 2106.6 846.0 2104.5 849.0 2102.4C852.0 2100.3 855.0 2098.3 858.0 2096.4C861.0 2094.6 864.0 2092.8 867.0 2091.1C870.0 2089.4 873.0 2087.8 876.0 2086.3C879.0 2084.8 882.0 2083.3 885.0 2081.9C888.0 2080.6 891.0 2079.2 894.0 2078.0C897.0 2076.8 900.0 2075.6 903.0 2074.4C906.0 2073.3 909.0 2072.3 912.0 2071.3C915.0 2070.3 918.0 2069.4 921.0 2068.5C924.0 2067.6 927.0 2066.7 930.0 2065.9C933.0 2065.1 936.0 2064.3 939.0 2063.5C942.0 2062.7 945.0 2061.9 948.0 2061.2C951.0 2060.4 954.0 2059.7 957.0 2059.0C960.0 2058.4 963.0 2057.7 966.0 2057.1C969.0 2056.6 972.0 2056.1 975.0 2055.5C978.0 2055.0 981.0 2054.6 984.0 2054.0C987.0 2053.5 990.0 2052.9 993.0 2052.3C996.0 2051.8 999.0 2051.1 1002.0 2050.6C1005.0 2050.1 1008.0 2049.8 1011.0 2049.4C1014.0 2049.0 1017.0 2048.7 1020.0 2048.4C1023.0 2048.0 1026.0 2047.7 1029.0 2047.3C1032.0 2047.0 1035.0 2046.7 1038.0 2046.3C1041.0 2046.0 1044.0 2045.7 1047.0 2045.5C1050.0 2045.2 1053.0 2045.0 1056.0 2044.8C1059.0 2044.5 1062.0 2044.3 1065.0 2044.1C1068.0 2043.9 1071.0 2043.7 1074.0 2043.5C1077.0 2043.4 1080.0 2043.2 1083.0 2043.0C1086.0 2042.9 1089.0 2042.8 1092.0 2042.7C1095.0 2042.5 1098.0 2042.5 1101.0 2042.4C1104.0 2042.3 1107.0 2042.3 1110.0 2042.2C1113.0 2042.1 1116.0 2042.1 1119.0 2042.0C1122.0 2042.0 1125.0 2041.9 1128.0 2041.9C1131.0 2041.9 1134.0 2041.8 1137.0 2041.8C1140.0 2041.8 1143.0 2041.7 1146.0 2041.7C1149.0 2041.7 1152.0 2041.7 1155.0 2041.7C1158.0 2041.7 1161.0 2041.7 1164.0 2041.6C1167.0 2041.6 1170.0 2041.6 1173.0 2041.6C1176.0 2041.6 1179.0 2041.6 1182.0 2041.6C1185.0 2041.6 1188.0 2041.6 1191.0 2041.6C1194.0 2041.6 1197.0 2041.6 1200.0 2041.5C1203.0 2041.5 1206.0 2041.5 1209.0 2041.5C1212.0 2041.5 1215.0 2041.5 1218.0 2041.5C1221.0 2041.5 1224.0 2041.5 1227.0 2041.5C1230.0 2041.5 1233.5 2041.5 1236.0 2041.5C1238.5 2041.5 1241.0 2041.5 1242.0 2041.5" stroke="#f96c0e" stroke-dasharray="17.6 8.9"/>
<path class="c" d="M291.0 2031.9C292.5 2031.9 297.0 2031.9 300.0 2031.9C303.0 2031.9 306.0 2031.9 309.0 2031.9C312.0 2031.9 315.0 2031.9 318.0 2031.9C321.0 2031.9 324.0 2031.9 327.0 2031.9C330.0 2031.9 333.0 2031.9 336.0 2031.9C339.0 2031.9 342.0 2031.9 345.0 2031.9C348.0 2031.9 351.0 2031.9 354.0 2031.9C357.0 2031.9 360.0 2031.9 363.0 2031.9C366.0 2031.9 369.0 2031.9 372.0 2031.9C375.0 2031.8 378.0 2031.8 381.0 2031.8C384.0 2031.8 387.0 2031.8 390.0 2031.8C393.0 2031.8 396.0 2031.7 399.0 2031.7C402.0 2031.7 405.0 2031.7 408.0 2031.7C411.0 2031.6 414.0 2031.6 417.0 2031.6C420.0 2031.6 423.0 2031.6 426.0 2031.6C429.0 2031.6 432.0 2031.5 435.0 2031.5C438.0 2031.5 441.0 2031.5 444.0 2031.5C447.0 2031.5 450.0 2031.5 453.0 2031.5C456.0 2031.4 459.0 2031.4 462.0 2031.4C465.0 2031.4 468.0 2031.4 471.0 2031.4C474.0 2031.3 477.0 2031.3 480.0 2031.3C483.0 2031.3 486.0 2031.2 489.0 2031.2C492.0 2031.2 495.0 2031.1 498.0 2031.1C501.0 2031.0 504.0 2030.9 507.0 2030.7C510.0 2030.5 513.0 2030.3 516.0 2030.0C519.0 2029.8 522.0 2029.5 525.0 2029.2C528.0 2028.9 531.0 2028.5 534.0 2028.2C537.0 2027.9 540.0 2027.6 543.0 2027.3C546.0 2027.0 549.0 2026.7 552.0 2026.3C555.0 2026.0 558.0 2025.6 561.0 2025.2C564.0 2024.8 567.0 2024.4 570.0 2024.0C573.0 2023.6 576.0 2023.1 579.0 2022.6C582.0 2022.2 585.0 2021.6 588.0 2021.1C591.0 2020.5 594.0 2019.9 597.0 2019.3C600.0 2018.7 603.0 2018.0 606.0 2017.3C609.0 2016.7 612.0 2015.9 615.0 2015.2C618.0 2014.4 621.0 2013.6 624.0 2012.8C627.0 2012.0 630.0 2011.1 633.0 2010.1C636.0 2009.2 639.0 2008.2 642.0 2007.2C645.0 2006.1 648.0 2005.0 651.0 2003.8C654.0 2002.7 657.0 2001.4 660.0 2000.1C663.0 1998.8 666.0 1997.3 669.0 1995.8C672.0 1994.3 675.0 1992.7 678.0 1990.9C681.0 1989.2 684.0 1987.4 687.0 1985.4C690.0 1983.4 693.0 1981.1 696.0 1978.7C699.0 1976.4 702.0 1973.8 705.0 1971.3C708.0 1968.8 711.0 1966.3 714.0 1963.8C717.0 1961.2 720.0 1958.6 723.0 1955.9C726.0 1953.2 729.0 1950.4 732.0 1947.5C735.0 1944.5 738.0 1941.1 741.0 1938.0C744.0 1934.8 747.0 1931.6 750.0 1928.5C753.0 1925.4 756.0 1922.6 759.0 1919.4C762.0 1916.1 765.0 1912.5 768.0 1908.9C771.0 1905.4 774.0 1901.6 777.0 1898.2C780.0 1894.7 783.0 1891.4 786.0 1888.4C789.0 1885.4 792.0 1882.7 795.0 1880.2C798.0 1877.7 801.0 1875.4 804.0 1873.4C807.0 1871.5 810.0 1869.7 813.0 1868.7C816.0 1867.6 819.0 1867.0 822.0 1867.2C825.0 1867.4 828.0 1868.4 831.0 1869.9C834.0 1871.3 837.0 1873.5 840.0 1875.8C843.0 1878.1 846.0 1880.9 849.0 1883.7C852.0 1886.5 855.0 1889.6 858.0 1892.6C861.0 1895.7 864.0 1898.9 867.0 1901.9C870.0 1905.0 873.0 1907.9 876.0 1910.8C879.0 1913.8 882.0 1916.7 885.0 1919.7C888.0 1922.6 891.0 1925.6 894.0 1928.5C897.0 1931.5 900.0 1934.4 903.0 1937.2C906.0 1940.1 909.0 1942.9 912.0 1945.5C915.0 1948.2 918.0 1950.8 921.0 1953.3C924.0 1955.8 927.0 1958.3 930.0 1960.7C933.0 1963.1 936.0 1965.5 939.0 1967.9C942.0 1970.3 945.0 1972.9 948.0 1975.2C951.0 1977.5 954.0 1979.7 957.0 1981.7C960.0 1983.6 963.0 1985.3 966.0 1986.9C969.0 1988.6 972.0 1990.1 975.0 1991.6C978.0 1993.1 981.0 1994.5 984.0 1995.9C987.0 1997.3 990.0 1998.6 993.0 1999.9C996.0 2001.2 999.0 2002.6 1002.0 2003.8C1005.0 2004.9 1008.0 2006.1 1011.0 2007.0C1014.0 2008.0 1017.0 2008.8 1020.0 2009.7C1023.0 2010.5 1026.0 2011.2 1029.0 2012.0C1032.0 2012.8 1035.0 2013.6 1038.0 2014.3C1041.0 2015.1 1044.0 2015.8 1047.0 2016.4C1050.0 2017.0 1053.0 2017.5 1056.0 2018.0C1059.0 2018.5 1062.0 2018.8 1065.0 2019.3C1068.0 2019.8 1071.0 2020.3 1074.0 2020.9C1077.0 2021.4 1080.0 2022.0 1083.0 2022.4C1086.0 2022.8 1089.0 2023.1 1092.0 2023.4C1095.0 2023.6 1098.0 2023.8 1101.0 2024.0C1104.0 2024.3 1107.0 2024.5 1110.0 2024.7C1113.0 2025.0 1116.0 2025.3 1119.0 2025.5C1122.0 2025.8 1125.0 2026.0 1128.0 2026.3C1131.0 2026.5 1134.0 2026.7 1137.0 2026.9C1140.0 2027.0 1143.0 2027.2 1146.0 2027.3C1149.0 2027.4 1152.0 2027.5 1155.0 2027.6C1158.0 2027.7 1161.0 2027.8 1164.0 2027.8C1167.0 2027.9 1170.0 2028.0 1173.0 2028.0C1176.0 2028.1 1179.0 2028.2 1182.0 2028.2C1185.0 2028.3 1188.0 2028.3 1191.0 2028.4C1194.0 2028.5 1197.0 2028.5 1200.0 2028.6C1203.0 2028.7 1206.0 2028.8 1209.0 2028.9C1212.0 2029.1 1215.0 2029.3 1218.0 2029.4C1221.0 2029.6 1224.0 2029.8 1227.0 2029.9C1230.0 2030.1 1233.5 2030.2 1236.0 2030.4C1238.5 2030.5 1241.0 2030.6 1242.0 2030.6" stroke="#ca0a32" stroke-dasharray="17.6 9.2 4 9.2"/>
<path class="c" d="M291.0 2040.5C292.5 2040.5 297.0 2040.5 300.0 2040.5C303.0 2040.5 306.0 2040.5 309.0 2040.5C312.0 2040.5 315.0 2040.5 318.0 2040.5C321.0 2040.5 324.0 2040.5 327.0 2040.5C330.0 2040.5 333.0 2040.5 336.0 2040.5C339.0 2040.5 342.0 2040.5 345.0 2040.5C348.0 2040.5 351.0 2040.5 354.0 2040.5C357.0 2040.5 360.0 2040.5 363.0 2040.5C366.0 2040.5 369.0 2040.5 372.0 2040.5C375.0 2040.6 378.0 2040.6 381.0 2040.6C384.0 2040.6 387.0 2040.6 390.0 2040.6C393.0 2040.6 396.0 2040.7 399.0 2040.7C402.0 2040.7 405.0 2040.7 408.0 2040.7C411.0 2040.8 414.0 2040.8 417.0 2040.8C420.0 2040.8 423.0 2040.8 426.0 2040.8C429.0 2040.8 432.0 2040.9 435.0 2040.9C438.0 2040.9 441.0 2040.9 444.0 2040.9C447.0 2040.9 450.0 2040.9 453.0 2040.9C456.0 2041.0 459.0 2041.0 462.0 2041.0C465.0 2041.0 468.0 2041.0 471.0 2041.0C474.0 2041.1 477.0 2041.1 480.0 2041.1C483.0 2041.1 486.0 2041.2 489.0 2041.2C492.0 2041.2 495.0 2041.3 498.0 2041.3C501.0 2041.4 504.0 2041.5 507.0 2041.7C510.0 2041.9 513.0 2042.1 516.0 2042.4C519.0 2042.6 522.0 2042.9 525.0 2043.2C528.0 2043.5 531.0 2043.9 534.0 2044.2C537.0 2044.5 540.0 2044.8 543.0 2045.1C546.0 2045.4 549.0 2045.7 552.0 2046.1C555.0 2046.4 558.0 2046.8 561.0 2047.2C564.0 2047.6 567.0 2048.0 570.0 2048.4C573.0 2048.8 576.0 2049.3 579.0 2049.8C582.0 2050.2 585.0 2050.8 588.0 2051.3C591.0 2051.9 594.0 2052.5 597.0 2053.1C600.0 2053.7 603.0 2054.4 606.0 2055.1C609.0 2055.7 612.0 2056.5 615.0 2057.2C618.0 2058.0 621.0 2058.8 624.0 2059.6C627.0 2060.4 630.0 2061.3 633.0 2062.3C636.0 2063.2 639.0 2064.2 642.0 2065.2C645.0 2066.3 648.0 2067.4 651.0 2068.6C654.0 2069.7 657.0 2071.0 660.0 2072.3C663.0 2073.6 666.0 2075.1 669.0 2076.6C672.0 2078.1 675.0 2079.7 678.0 2081.5C681.0 2083.2 684.0 2085.0 687.0 2087.0C690.0 2089.0 693.0 2091.3 696.0 2093.7C699.0 2096.0 702.0 2098.6 705.0 2101.1C708.0 2103.6 711.0 2106.1 714.0 2108.6C717.0 2111.2 720.0 2113.8 723.0 2116.5C726.0 2119.2 729.0 2122.0 732.0 2124.9C735.0 2127.9 738.0 2131.3 741.0 2134.4C744.0 2137.6 747.0 2140.8 750.0 2143.9C753.0 2147.0 756.0 2149.8 759.0 2153.0C762.0 2156.3 765.0 2159.9 768.0 2163.5C771.0 2167.0 774.0 2170.8 777.0 2174.2C780.0 2177.7 783.0 2181.0 786.0 2184.0C789.0 2187.0 792.0 2189.7 795.0 2192.2C798.0 2194.7 801.0 2197.0 804.0 2199.0C807.0 2200.9 810.0 2202.7 813.0 2203.7C816.0 2204.8 819.0 2205.4 822.0 2205.2C825.0 2205.0 828.0 2204.0 831.0 2202.5C834.0 2201.1 837.0 2198.9 840.0 2196.6C843.0 2194.3 846.0 2191.5 849.0 2188.7C852.0 2185.9 855.0 2182.8 858.0 2179.8C861.0 2176.7 864.0 2173.5 867.0 2170.5C870.0 2167.4 873.0 2164.5 876.0 2161.6C879.0 2158.6 882.0 2155.7 885.0 2152.7C888.0 2149.8 891.0 2146.8 894.0 2143.9C897.0 2140.9 900.0 2138.0 903.0 2135.2C906.0 2132.3 909.0 2129.5 912.0 2126.9C915.0 2124.2 918.0 2121.6 921.0 2119.1C924.0 2116.6 927.0 2114.1 930.0 2111.7C933.0 2109.3 936.0 2106.9 939.0 2104.5C942.0 2102.1 945.0 2099.5 948.0 2097.2C951.0 2094.9 954.0 2092.7 957.0 2090.7C960.0 2088.8 963.0 2087.1 966.0 2085.5C969.0 2083.8 972.0 2082.3 975.0 2080.8C978.0 2079.3 981.0 2077.9 984.0 2076.5C987.0 2075.1 990.0 2073.8 993.0 2072.5C996.0 2071.2 999.0 2069.8 1002.0 2068.6C1005.0 2067.5 1008.0 2066.3 1011.0 2065.4C1014.0 2064.4 1017.0 2063.6 1020.0 2062.7C1023.0 2061.9 1026.0 2061.2 1029.0 2060.4C1032.0 2059.6 1035.0 2058.8 1038.0 2058.1C1041.0 2057.3 1044.0 2056.6 1047.0 2056.0C1050.0 2055.4 1053.0 2054.9 1056.0 2054.4C1059.0 2053.9 1062.0 2053.6 1065.0 2053.1C1068.0 2052.6 1071.0 2052.1 1074.0 2051.5C1077.0 2051.0 1080.0 2050.4 1083.0 2050.0C1086.0 2049.6 1089.0 2049.3 1092.0 2049.0C1095.0 2048.8 1098.0 2048.6 1101.0 2048.4C1104.0 2048.1 1107.0 2047.9 1110.0 2047.7C1113.0 2047.4 1116.0 2047.1 1119.0 2046.9C1122.0 2046.6 1125.0 2046.4 1128.0 2046.1C1131.0 2045.9 1134.0 2045.7 1137.0 2045.5C1140.0 2045.4 1143.0 2045.2 1146.0 2045.1C1149.0 2045.0 1152.0 2044.9 1155.0 2044.8C1158.0 2044.7 1161.0 2044.6 1164.0 2044.6C1167.0 2044.5 1170.0 2044.4 1173.0 2044.4C1176.0 2044.3 1179.0 2044.2 1182.0 2044.2C1185.0 2044.1 1188.0 2044.1 1191.0 2044.0C1194.0 2043.9 1197.0 2043.9 1200.0 2043.8C1203.0 2043.7 1206.0 2043.6 1209.0 2043.5C1212.0 2043.3 1215.0 2043.1 1218.0 2043.0C1221.0 2042.8 1224.0 2042.6 1227.0 2042.5C1230.0 2042.3 1233.5 2042.2 1236.0 2042.0C1238.5 2041.9 1241.0 2041.8 1242.0 2041.8" stroke="#ca0a32" stroke-dasharray="17.6 9.2 4 9.2"/>
</g>
<rect x="289.6" y="1788.4" width="952.9" height="495.8" fill="none" stroke="#4a4546" stroke-width="1.35"/>
<g opacity="0.999">
<text transform="translate(155.04 130.60) scale(0.8003 1)" font-size="44.95" fill="#000">20dBv</text>
<text transform="translate(156.59 130.60) scale(0.8003 1)" font-size="44.95" fill="#000">20dBv</text>
<text transform="translate(237.61 253.70) scale(0.8608 1)" font-size="44.36" fill="#000">10</text>
<text transform="translate(239.14 253.70) scale(0.8608 1)" font-size="44.36" fill="#000">10</text>
<rect x="239.22" y="248.91" width="7.29" height="5.99" fill="#fff"/>
<rect x="253.31" y="248.91" width="6.80" height="5.99" fill="#fff"/>
<text transform="translate(262.24 377.70) scale(0.8784 1)" font-size="44.51" fill="#000">0</text>
<text transform="translate(263.77 377.70) scale(0.8784 1)" font-size="44.51" fill="#000">0</text>
<text transform="translate(221.17 501.50) scale(0.9194 1)" font-size="44.36" fill="#000">-10</text>
<text transform="translate(222.69 501.50) scale(0.9194 1)" font-size="44.36" fill="#000">-10</text>
<rect x="236.52" y="496.71" width="7.73" height="5.99" fill="#fff"/>
<rect x="251.41" y="496.71" width="7.20" height="5.99" fill="#fff"/>
<text transform="translate(221.18 618.20) scale(0.9036 1)" font-size="44.80" fill="#000">-20</text>
<text transform="translate(222.72 618.20) scale(0.9036 1)" font-size="44.80" fill="#000">-20</text>
<text transform="translate(155.04 964.10) scale(0.8003 1)" font-size="44.95" fill="#000">20dBv</text>
<text transform="translate(156.59 964.10) scale(0.8003 1)" font-size="44.95" fill="#000">20dBv</text>
<text transform="translate(237.61 1087.70) scale(0.8608 1)" font-size="44.36" fill="#000">10</text>
<text transform="translate(239.14 1087.70) scale(0.8608 1)" font-size="44.36" fill="#000">10</text>
<rect x="239.22" y="1082.91" width="7.29" height="5.99" fill="#fff"/>
<rect x="253.31" y="1082.91" width="6.80" height="5.99" fill="#fff"/>
<text transform="translate(262.24 1211.80) scale(0.8784 1)" font-size="44.51" fill="#000">0</text>
<text transform="translate(263.77 1211.80) scale(0.8784 1)" font-size="44.51" fill="#000">0</text>
<text transform="translate(221.17 1335.90) scale(0.9194 1)" font-size="44.36" fill="#000">-10</text>
<text transform="translate(222.69 1335.90) scale(0.9194 1)" font-size="44.36" fill="#000">-10</text>
<rect x="236.52" y="1331.11" width="7.73" height="5.99" fill="#fff"/>
<rect x="251.41" y="1331.11" width="7.20" height="5.99" fill="#fff"/>
<text transform="translate(221.18 1452.00) scale(0.9036 1)" font-size="44.80" fill="#000">-20</text>
<text transform="translate(222.72 1452.00) scale(0.9036 1)" font-size="44.80" fill="#000">-20</text>
<text transform="translate(155.04 1803.60) scale(0.8003 1)" font-size="44.95" fill="#000">20dBv</text>
<text transform="translate(156.59 1803.60) scale(0.8003 1)" font-size="44.95" fill="#000">20dBv</text>
<text transform="translate(237.61 1927.40) scale(0.8608 1)" font-size="44.36" fill="#000">10</text>
<text transform="translate(239.14 1927.40) scale(0.8608 1)" font-size="44.36" fill="#000">10</text>
<rect x="239.22" y="1922.61" width="7.29" height="5.99" fill="#fff"/>
<rect x="253.31" y="1922.61" width="6.80" height="5.99" fill="#fff"/>
<text transform="translate(262.24 2051.90) scale(0.8784 1)" font-size="44.51" fill="#000">0</text>
<text transform="translate(263.77 2051.90) scale(0.8784 1)" font-size="44.51" fill="#000">0</text>
<text transform="translate(221.17 2175.40) scale(0.9194 1)" font-size="44.36" fill="#000">-10</text>
<text transform="translate(222.69 2175.40) scale(0.9194 1)" font-size="44.36" fill="#000">-10</text>
<rect x="236.52" y="2170.61" width="7.73" height="5.99" fill="#fff"/>
<rect x="251.41" y="2170.61" width="7.20" height="5.99" fill="#fff"/>
<text transform="translate(221.18 2291.80) scale(0.9036 1)" font-size="44.80" fill="#000">-20</text>
<text transform="translate(222.72 2291.80) scale(0.9036 1)" font-size="44.80" fill="#000">-20</text>
<text transform="translate(266.97 655.70) scale(0.8620 1)" font-size="43.93" fill="#000">20</text>
<text transform="translate(268.48 655.70) scale(0.8620 1)" font-size="43.93" fill="#000">20</text>
<text transform="translate(480.88 655.70) scale(0.8450 1)" font-size="43.93" fill="#000">100</text>
<text transform="translate(482.39 655.70) scale(0.8450 1)" font-size="43.93" fill="#000">100</text>
<rect x="482.42" y="650.96" width="7.11" height="5.94" fill="#fff"/>
<rect x="496.16" y="650.96" width="6.63" height="5.94" fill="#fff"/>
<text transform="translate(790.66 655.70) scale(0.8540 1)" font-size="43.93" fill="#000">1k</text>
<text transform="translate(792.17 655.70) scale(0.8540 1)" font-size="43.93" fill="#000">1k</text>
<rect x="792.22" y="650.96" width="7.18" height="5.94" fill="#fff"/>
<rect x="806.08" y="650.96" width="6.69" height="5.94" fill="#fff"/>
<text transform="translate(1107.41 655.70) scale(0.8326 1)" font-size="43.93" fill="#000">10k</text>
<text transform="translate(1108.92 655.70) scale(0.8326 1)" font-size="43.93" fill="#000">10k</text>
<rect x="1108.92" y="650.96" width="7.02" height="5.94" fill="#fff"/>
<rect x="1122.49" y="650.96" width="6.54" height="5.94" fill="#fff"/>
<text transform="translate(1196.75 655.70) scale(0.8145 1)" font-size="43.93" fill="#000">20kHz</text>
<text transform="translate(1198.26 655.70) scale(0.8145 1)" font-size="43.93" fill="#000">20kHz</text>
<text transform="translate(266.97 1489.70) scale(0.8620 1)" font-size="43.93" fill="#000">20</text>
<text transform="translate(268.48 1489.70) scale(0.8620 1)" font-size="43.93" fill="#000">20</text>
<text transform="translate(480.88 1489.70) scale(0.8450 1)" font-size="43.93" fill="#000">100</text>
<text transform="translate(482.39 1489.70) scale(0.8450 1)" font-size="43.93" fill="#000">100</text>
<rect x="482.42" y="1484.96" width="7.11" height="5.94" fill="#fff"/>
<rect x="496.16" y="1484.96" width="6.63" height="5.94" fill="#fff"/>
<text transform="translate(790.66 1489.70) scale(0.8540 1)" font-size="43.93" fill="#000">1k</text>
<text transform="translate(792.17 1489.70) scale(0.8540 1)" font-size="43.93" fill="#000">1k</text>
<rect x="792.22" y="1484.96" width="7.18" height="5.94" fill="#fff"/>
<rect x="806.08" y="1484.96" width="6.69" height="5.94" fill="#fff"/>
<text transform="translate(1107.41 1489.70) scale(0.8326 1)" font-size="43.93" fill="#000">10k</text>
<text transform="translate(1108.92 1489.70) scale(0.8326 1)" font-size="43.93" fill="#000">10k</text>
<rect x="1108.92" y="1484.96" width="7.02" height="5.94" fill="#fff"/>
<rect x="1122.49" y="1484.96" width="6.54" height="5.94" fill="#fff"/>
<text transform="translate(1196.75 1489.70) scale(0.8145 1)" font-size="43.93" fill="#000">20kHz</text>
<text transform="translate(1198.26 1489.70) scale(0.8145 1)" font-size="43.93" fill="#000">20kHz</text>
<text transform="translate(266.97 2329.30) scale(0.8620 1)" font-size="43.93" fill="#000">20</text>
<text transform="translate(268.48 2329.30) scale(0.8620 1)" font-size="43.93" fill="#000">20</text>
<text transform="translate(480.88 2329.30) scale(0.8450 1)" font-size="43.93" fill="#000">100</text>
<text transform="translate(482.39 2329.30) scale(0.8450 1)" font-size="43.93" fill="#000">100</text>
<rect x="482.42" y="2324.56" width="7.11" height="5.94" fill="#fff"/>
<rect x="496.16" y="2324.56" width="6.63" height="5.94" fill="#fff"/>
<text transform="translate(790.66 2329.30) scale(0.8540 1)" font-size="43.93" fill="#000">1k</text>
<text transform="translate(792.17 2329.30) scale(0.8540 1)" font-size="43.93" fill="#000">1k</text>
<rect x="792.22" y="2324.56" width="7.18" height="5.94" fill="#fff"/>
<rect x="806.08" y="2324.56" width="6.69" height="5.94" fill="#fff"/>
<text transform="translate(1107.41 2329.30) scale(0.8326 1)" font-size="43.93" fill="#000">10k</text>
<text transform="translate(1108.92 2329.30) scale(0.8326 1)" font-size="43.93" fill="#000">10k</text>
<rect x="1108.92" y="2324.56" width="7.02" height="5.94" fill="#fff"/>
<rect x="1122.49" y="2324.56" width="6.54" height="5.94" fill="#fff"/>
<text transform="translate(1196.75 2329.30) scale(0.8145 1)" font-size="43.93" fill="#000">20kHz</text>
<text transform="translate(1198.26 2329.30) scale(0.8145 1)" font-size="43.93" fill="#000">20kHz</text>
<text transform="translate(369.20 724.50) scale(0.7311 1)" font-size="44.51" fill="#000">BASS</text>
<text transform="translate(370.73 724.50) scale(0.7311 1)" font-size="44.51" fill="#000">BASS</text>
<text transform="translate(472.03 724.50) scale(0.7213 1)" font-size="44.51" fill="#000">Boost</text>
<text transform="translate(473.56 724.50) scale(0.7213 1)" font-size="44.51" fill="#000">Boost</text>
<path d="M564.60 724.50L569.96 724.50L579.60 693.29L574.25 693.29Z" fill="#000"/>
<text transform="translate(578.92 724.50) scale(0.7199 1)" font-size="44.51" fill="#000">Cut</text>
<text transform="translate(580.45 724.50) scale(0.7199 1)" font-size="44.51" fill="#000">Cut</text>
<text transform="translate(810.99 724.50) scale(0.7063 1)" font-size="44.51" fill="#000">TREBLE</text>
<text transform="translate(812.52 724.50) scale(0.7063 1)" font-size="44.51" fill="#000">TREBLE</text>
<text transform="translate(950.16 724.50) scale(0.7132 1)" font-size="44.51" fill="#000">Boost</text>
<text transform="translate(951.69 724.50) scale(0.7132 1)" font-size="44.51" fill="#000">Boost</text>
<path d="M1041.00 724.50L1046.36 724.50L1056.70 693.29L1051.35 693.29Z" fill="#000"/>
<text transform="translate(1056.53 724.50) scale(0.7144 1)" font-size="44.51" fill="#000">Cut</text>
<text transform="translate(1058.06 724.50) scale(0.7144 1)" font-size="44.51" fill="#000">Cut</text>
<text transform="translate(72.73 890.20) scale(0.7664 1)" font-size="63.13" fill="#000">Hexa</text>
<text transform="translate(74.90 890.20) scale(0.7664 1)" font-size="63.13" fill="#000">Hexa</text>
<text transform="translate(207.85 890.20) scale(0.8086 1)" font-size="63.13" fill="#000">Mid</text>
<text transform="translate(210.02 890.20) scale(0.8086 1)" font-size="63.13" fill="#000">Mid</text>
<text transform="translate(315.09 890.20) scale(0.7956 1)" font-size="63.13" fill="#000">System</text>
<text transform="translate(317.26 890.20) scale(0.7956 1)" font-size="63.13" fill="#000">System</text>
<text transform="translate(566.02 890.20) scale(0.8169 1)" font-size="63.13" fill="#000">MID</text>
<text transform="translate(568.19 890.20) scale(0.8169 1)" font-size="63.13" fill="#000">MID</text>
<text transform="translate(679.53 890.20) scale(0.7213 1)" font-size="63.13" fill="#000">Boost</text>
<text transform="translate(681.70 890.20) scale(0.7213 1)" font-size="63.13" fill="#000">Boost</text>
<path d="M812.00 890.20L819.60 890.20L833.90 845.93L826.30 845.93Z" fill="#000"/>
<text transform="translate(833.57 890.20) scale(0.8039 1)" font-size="63.13" fill="#000">Cut</text>
<text transform="translate(835.74 890.20) scale(0.8039 1)" font-size="63.13" fill="#000">Cut</text>
<text transform="translate(72.73 1722.40) scale(0.7664 1)" font-size="63.13" fill="#000">Hexa</text>
<text transform="translate(74.90 1722.40) scale(0.7664 1)" font-size="63.13" fill="#000">Hexa</text>
<text transform="translate(207.85 1722.40) scale(0.8086 1)" font-size="63.13" fill="#000">Mid</text>
<text transform="translate(210.02 1722.40) scale(0.8086 1)" font-size="63.13" fill="#000">Mid</text>
<text transform="translate(315.09 1722.40) scale(0.7956 1)" font-size="63.13" fill="#000">System</text>
<text transform="translate(317.26 1722.40) scale(0.7956 1)" font-size="63.13" fill="#000">System</text>
<text transform="translate(566.02 1722.40) scale(0.8169 1)" font-size="63.13" fill="#000">MID</text>
<text transform="translate(568.19 1722.40) scale(0.8169 1)" font-size="63.13" fill="#000">MID</text>
<text transform="translate(679.53 1722.40) scale(0.7213 1)" font-size="63.13" fill="#000">Boost</text>
<text transform="translate(681.70 1722.40) scale(0.7213 1)" font-size="63.13" fill="#000">Boost</text>
<path d="M812.00 1722.40L819.60 1722.40L833.90 1678.13L826.30 1678.13Z" fill="#000"/>
<text transform="translate(833.57 1722.40) scale(0.8039 1)" font-size="63.13" fill="#000">Cut</text>
<text transform="translate(835.74 1722.40) scale(0.8039 1)" font-size="63.13" fill="#000">Cut</text>
<text transform="translate(442.52 1573.50) scale(0.7837 1)" font-size="44.36" fill="#000">350Hz</text>
<text transform="translate(444.04 1573.50) scale(0.7837 1)" font-size="44.36" fill="#000">350Hz</text>
<text transform="translate(722.99 1573.50) scale(0.7894 1)" font-size="44.36" fill="#000">600Hz</text>
<text transform="translate(724.51 1573.50) scale(0.7894 1)" font-size="44.36" fill="#000">600Hz</text>
<text transform="translate(1005.11 1573.50) scale(0.7896 1)" font-size="44.36" fill="#000">1kHz</text>
<text transform="translate(1006.64 1573.50) scale(0.7896 1)" font-size="44.36" fill="#000">1kHz</text>
<rect x="1006.52" y="1568.71" width="6.75" height="5.99" fill="#fff"/>
<rect x="1019.63" y="1568.71" width="6.30" height="5.99" fill="#fff"/>
<text transform="translate(442.08 2410.20) scale(0.7871 1)" font-size="44.36" fill="#000">250Hz</text>
<text transform="translate(443.60 2410.20) scale(0.7871 1)" font-size="44.36" fill="#000">250Hz</text>
<text transform="translate(723.78 2410.20) scale(0.7832 1)" font-size="44.36" fill="#000">450Hz</text>
<text transform="translate(725.30 2410.20) scale(0.7832 1)" font-size="44.36" fill="#000">450Hz</text>
<text transform="translate(1006.17 2410.20) scale(0.7840 1)" font-size="44.36" fill="#000">850Hz</text>
<text transform="translate(1007.69 2410.20) scale(0.7840 1)" font-size="44.36" fill="#000">850Hz</text>
</g>
<line x1="282.4" y1="706.4" x2="353.1" y2="706.4" stroke="#e60012" stroke-width="10.3"/>
<line x1="723.6" y1="706.4" x2="794.2" y2="706.4" stroke="#1c1f87" stroke-width="10.3" stroke-dasharray="17.5 9.05"/>
<circle cx="531.2" cy="868.4" r="30.2" fill="none" stroke="#000" stroke-width="3"/>
<path d="M516.6 846.6h7.9v17.3h12.4v-17.3h7.9v43.6h-7.9v-18.9h-12.4v18.9h-7.9z" fill="#000"/>
<circle cx="531.2" cy="1700.6" r="30.2" fill="none" stroke="#000" stroke-width="3"/>
<path d="M518.6 1678.8h8.5v36.4h16v7.3h-24.5z" fill="#000"/>
<circle cx="322.5" cy="1559.4" r="28.3" fill="none" stroke="#000" stroke-width="2.5"/>
<path transform="translate(285.00 1520.00) scale(0.05438)" d="M625 430L790 430L790 1025L625 1025L625 565L500 630L480 500L640 430Z" fill="#000"/>
<circle cx="605.6" cy="1559.4" r="28.3" fill="none" stroke="#000" stroke-width="2.5"/>
<path transform="translate(566.00 1520.00) scale(0.05438)" d="M515 490C570 440 640 415 720 415C850 415 935 480 935 590C935 690 880 750 740 880L945 880L945 1025L510 1025L510 905L690 735C750 680 770 640 770 605C770 570 745 550 710 550C650 550 600 570 555 595Z" fill="#000"/>
<circle cx="879.8" cy="1559.4" r="28.3" fill="none" stroke="#000" stroke-width="2.5"/>
<path transform="translate(840.00 1520.00) scale(0.05438)" d="M535 465C590 430 660 415 730 415C850 415 930 470 930 570C930 640 890 690 830 710C900 730 945 790 945 860C945 970 850 1030 720 1030C640 1030 565 1010 515 980L545 865C590 895 650 910 705 910C750 910 775 890 775 855C775 815 745 795 700 795L610 795L610 665L690 665C735 665 760 645 760 610C760 575 735 555 700 555C650 555 600 570 560 590Z" fill="#000"/>
<line x1="361.4" y1="1557.8" x2="431.3" y2="1557.8" stroke="#fb9732" stroke-width="10.2"/>
<line x1="641.9" y1="1557.8" x2="712.3" y2="1557.8" stroke="#f96c0e" stroke-width="10.2" stroke-dasharray="17.3 9.4"/>
<line x1="916.9" y1="1557.8" x2="987.7" y2="1557.8" stroke="#d0000f" stroke-width="10.2" stroke-dasharray="17.7 9.4 4 8.8"/>
<circle cx="322.5" cy="2396.1" r="28.3" fill="none" stroke="#000" stroke-width="2.5"/>
<path transform="translate(285.00 2356.70) scale(0.05438)" d="M625 430L790 430L790 1025L625 1025L625 565L500 630L480 500L640 430Z" fill="#000"/>
<circle cx="605.6" cy="2396.1" r="28.3" fill="none" stroke="#000" stroke-width="2.5"/>
<path transform="translate(566.00 2356.70) scale(0.05438)" d="M515 490C570 440 640 415 720 415C850 415 935 480 935 590C935 690 880 750 740 880L945 880L945 1025L510 1025L510 905L690 735C750 680 770 640 770 605C770 570 745 550 710 550C650 550 600 570 555 595Z" fill="#000"/>
<circle cx="879.8" cy="2396.1" r="28.3" fill="none" stroke="#000" stroke-width="2.5"/>
<path transform="translate(840.00 2356.70) scale(0.05438)" d="M535 465C590 430 660 415 730 415C850 415 930 470 930 570C930 640 890 690 830 710C900 730 945 790 945 860C945 970 850 1030 720 1030C640 1030 565 1010 515 980L545 865C590 895 650 910 705 910C750 910 775 890 775 855C775 815 745 795 700 795L610 795L610 665L690 665C735 665 760 645 760 610C760 575 735 555 700 555C650 555 600 570 560 590Z" fill="#000"/>
<line x1="361.4" y1="2394.5" x2="431.3" y2="2394.5" stroke="#fb9732" stroke-width="10.2"/>
<line x1="641.9" y1="2394.5" x2="712.3" y2="2394.5" stroke="#f96c0e" stroke-width="10.2" stroke-dasharray="17.3 9.4"/>
<line x1="916.9" y1="2394.5" x2="987.7" y2="2394.5" stroke="#d0000f" stroke-width="10.2" stroke-dasharray="17.7 9.4 4 8.8"/>
</svg></body></html>
